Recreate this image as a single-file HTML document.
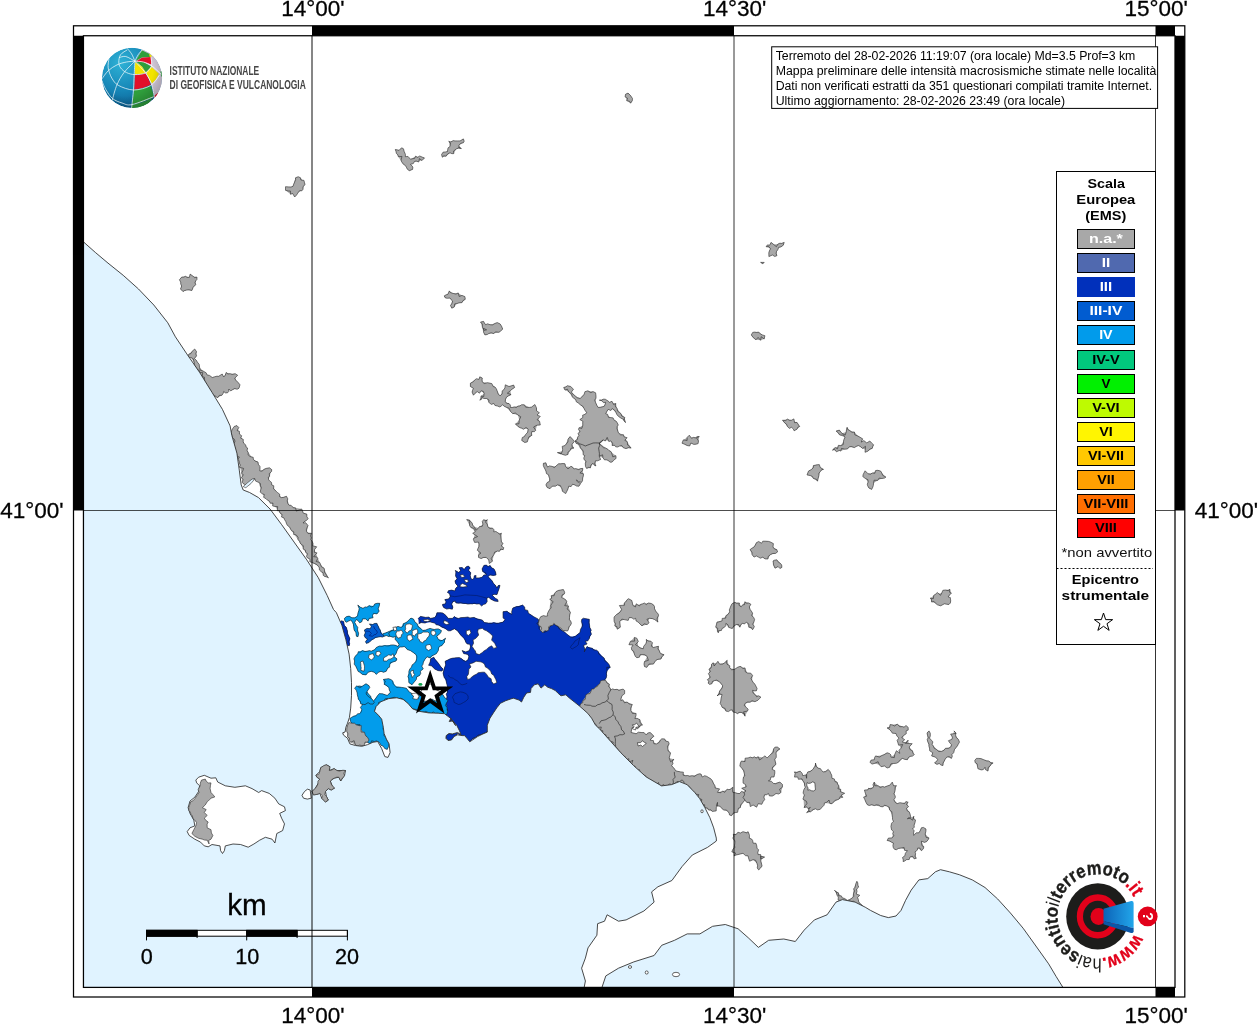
<!DOCTYPE html>
<html><head><meta charset="utf-8"><title>Mappa intensità macrosismiche</title>
<style>html,body{margin:0;padding:0;background:#fff;}body{width:1258px;height:1024px;overflow:hidden;font-family:"Liberation Sans",sans-serif;}svg{display:block;}text{font-family:"Liberation Sans",sans-serif;}</style>
</head><body>
<svg width="1258" height="1024" viewBox="0 0 1258 1024">
<rect x="0" y="0" width="1258" height="1024" fill="#fff"/>
<g style="will-change:opacity;opacity:0.999">
<defs><clipPath id="mc"><rect x="83.5" y="35.5" width="1091.5" height="952"/></clipPath>
<path id="circ" d="M1134.62,932.79 A40.30,40.30 0 1 1 1060.98,900.01 A40.30,40.30 0 1 1 1134.62,932.79"/>
</defs>
<g clip-path="url(#mc)">
<rect x="83" y="35" width="1093" height="953" fill="#fff"/>
<g stroke="#1a1a1a" stroke-width="0.6" stroke-linejoin="miter">
<g fill="#0030bb">
<polygon points="442.5,604.4 445.4,603.8 446.0,601.7 444.8,599.6 449.0,598.8 450.2,596.4 449.6,593.7 447.5,592.5 448.4,590.7 451.7,590.1 454.7,591.0 455.9,588.0 458.0,586.2 455.6,583.5 455.0,580.9 457.1,578.8 455.6,576.1 455.9,571.9 455.3,570.4 458.8,572.5 460.6,570.4 459.1,567.8 462.1,567.5 464.2,569.5 466.0,566.9 468.4,566.0 470.2,568.0 468.4,570.1 470.8,572.8 470.2,575.5 470.8,577.9 472.0,579.7 473.8,578.5 474.3,575.8 476.1,575.6 475.8,577.9 479.1,577.9 482.1,577.3 483.9,574.9 486.3,574.9 482.7,571.6 482.1,568.9 483.9,565.4 486.3,565.1 488.1,566.6 490.1,565.4 491.6,567.8 494.0,568.9 495.5,571.9 496.1,574.9 493.4,575.5 489.8,574.9 488.1,576.7 490.4,579.1 492.2,580.9 493.4,583.3 495.2,585.0 497.0,588.0 498.2,585.6 500.0,585.3 499.1,588.6 498.2,591.0 497.0,594.6 494.0,594.3 492.2,595.2 495.2,598.2 498.2,601.4 494.6,601.1 491.0,599.3 488.7,597.3 486.9,598.2 485.7,603.8 476.7,604.1 467.8,604.1 458.8,603.2 455.9,602.9 455.3,601.1 452.9,601.7 451.7,604.1 452.9,607.1 452.3,609.2 449.3,608.6 443.9,607.7 442.8,605.9" stroke="none"/>
<polygon points="442.5,604.4 445.4,603.8 446.0,601.7 444.8,599.6 449.0,598.8 450.2,596.4 449.6,593.7 447.5,592.5 448.4,590.7 451.7,590.1 454.7,591.0 455.9,588.0 458.0,586.2 455.6,583.5 455.0,580.9 457.1,578.8 455.6,576.1 455.9,571.9 455.3,570.4 458.8,572.5 460.6,570.4 459.1,567.8 462.1,567.5 464.2,569.5 466.0,566.9 468.4,566.0 470.2,568.0 468.4,570.1 470.8,572.8 470.2,575.5 470.8,577.9 472.0,579.7 473.8,578.5 474.3,575.8 476.1,575.6 475.8,577.9 479.1,577.9 482.1,577.3 483.9,574.9 486.3,574.9 485.6,572.8 482.7,571.6 482.1,568.9 483.9,565.4 486.3,565.1 488.1,566.6 490.1,565.4 491.6,567.8 494.0,568.9 495.5,571.9 496.1,574.9 493.4,575.5 489.8,574.9 488.1,576.7 490.4,579.1 492.2,580.9 493.4,583.3 495.2,585.0 497.0,588.0 498.2,585.6 500.0,585.3 499.1,588.6 498.2,591.0 497.0,594.6 494.0,594.3 492.2,595.2 495.2,598.2 497.6,599.4 498.2,601.4 494.6,601.1 491.0,599.3 488.7,597.3 486.9,598.2 487.2,601.6 485.7,603.8 483.5,604.5 481.6,606.0 479.2,603.8 476.7,604.1 474.1,603.2 472.7,603.9 470.6,603.8 467.8,604.1 465.8,603.5 463.7,603.5 460.7,602.8 458.8,603.2 455.9,602.9 455.3,601.1 452.9,601.7 451.7,604.1 452.9,607.1 452.3,609.2 449.3,608.6 446.7,609.1 443.9,607.7 442.8,605.9"/>
<polygon points="447.2,685.6 446.2,681.5 444.1,677.3 443.1,673.2 444.1,669.1 445.7,664.9 445.1,661.3 448.2,659.8 452.4,658.2 456.5,657.7 461.7,658.7 465.8,661.3 467.9,659.8 468.9,656.7 467.9,654.4 463.7,653.6 462.2,650.5 465.8,652.0 469.4,650.5 470.5,646.9 469.9,644.3 465.8,642.2 463.7,638.1 460.6,635.0 457.5,630.8 454.4,628.8 450.3,630.8 446.2,629.3 442.0,627.2 438.9,625.2 434.8,623.1 430.7,622.1 425.5,623.1 421.4,622.6 418.8,623.6 418.3,618.4 420.3,616.4 425.5,617.4 430.7,618.4 434.8,617.4 436.9,612.8 441.0,612.8 445.1,614.8 448.2,618.4 452.4,618.4 454.4,616.4 458.6,618.4 464.8,617.4 469.9,617.9 474.1,617.4 480.3,619.5 484.4,622.6 488.5,623.1 493.7,622.6 498.9,623.1 503.0,622.1 505.1,619.5 503.0,615.3 503.0,611.7 507.1,611.2 511.8,614.3 512.8,608.1 516.4,606.6 522.6,605.0 524.9,609.7 528.4,613.2 533.7,616.7 538.9,621.1 540.7,630.7 546.8,631.1 550.3,625.8 553.8,623.4 558.2,626.3 562.5,630.7 566.9,634.2 570.4,636.8 575.6,636.0 580.0,632.5 581.8,627.2 581.8,619.3 586.1,618.8 589.3,619.3 589.6,625.5 591.4,634.2 589.3,638.6 585.3,641.2 583.5,645.6 584.4,651.7 587.0,646.5 592.3,648.2 598.4,651.7 602.8,656.9 607.1,662.2 610.3,667.4 607.1,670.9 606.2,677.9 603.6,681.4 599.3,684.9 594.9,688.4 593.1,693.7 593.1,702.4 583.0,712.1 579.2,708.8 574.4,705.0 569.6,701.2 565.8,697.8 561.0,698.8 558.2,696.4 555.3,693.5 551.5,691.6 547.7,690.2 544.8,687.8 541.0,691.1 538.2,686.8 534.3,687.8 531.0,691.6 530.5,695.4 526.7,695.9 523.8,700.2 521.5,705.0 519.1,703.1 513.4,701.2 511.3,700.9 506.3,702.6 501.4,705.1 498.1,709.3 494.9,714.3 491.6,719.3 489.2,725.9 489.3,732.5 481.1,734.7 475.9,737.3 470.6,740.8 468.0,742.5 465.1,739.3 463.0,736.8 459.6,736.1 458.0,731.9 455.6,726.8 452.4,723.5 449.9,720.0 447.5,717.5 445.8,714.9" stroke="none"/>
<polygon points="447.2,685.6 446.2,681.5 446.1,679.5 444.1,677.3 443.1,673.2 444.1,669.1 444.8,666.9 445.7,664.9 445.1,661.3 448.2,659.8 450.1,658.8 452.4,658.2 456.5,657.7 459.3,657.5 461.7,658.7 463.2,660.5 465.8,661.3 467.9,659.8 468.9,656.7 467.9,654.4 463.7,653.6 462.2,650.5 465.8,652.0 469.4,650.5 470.5,646.9 469.9,644.3 467.1,644.0 465.8,642.2 465.1,639.9 463.7,638.1 460.6,635.0 459.1,633.0 457.5,630.8 454.4,628.8 452.3,629.8 450.3,630.8 448.1,630.8 446.2,629.3 444.8,628.2 442.0,627.2 438.9,625.2 436.0,624.7 434.8,623.1 430.7,622.1 427.4,620.8 425.5,623.1 421.4,622.6 418.8,623.6 421.1,621.4 418.3,618.4 420.3,616.4 422.6,616.7 425.5,617.4 428.8,617.1 430.7,618.4 434.8,617.4 436.6,615.3 436.9,612.8 441.0,612.8 442.9,613.0 445.1,614.8 446.7,616.3 448.2,618.4 452.4,618.4 454.4,616.4 455.7,618.0 458.6,618.4 460.8,617.6 464.8,617.4 467.9,617.0 469.9,617.9 474.1,617.4 477.2,619.1 480.3,619.5 482.4,620.1 484.4,622.6 488.5,623.1 491.7,623.4 493.7,622.6 496.7,623.5 498.9,623.1 503.0,622.1 505.1,619.5 503.1,618.1 503.0,615.3 503.0,611.7 507.1,611.2 508.6,612.8 511.8,614.3 511.7,611.4 512.8,608.1 516.4,606.6 519.1,606.6 522.6,605.0 524.7,607.0 524.9,609.7 527.8,610.4 528.4,613.2 531.7,615.3 533.7,616.7 536.1,617.9 538.2,619.1 538.9,621.1 537.0,623.5 539.0,625.6 539.1,628.4 540.7,630.7 544.4,632.3 546.8,631.1 548.9,628.6 550.3,625.8 553.8,623.4 555.8,625.5 558.2,626.3 559.3,629.0 562.5,630.7 565.3,632.5 566.9,634.2 570.4,636.8 572.6,637.6 575.6,636.0 578.0,634.1 580.0,632.5 580.5,629.3 581.8,627.2 582.7,625.2 581.4,621.6 581.8,619.3 583.4,618.2 586.1,618.8 589.3,619.3 589.0,622.8 589.6,625.5 589.7,627.2 591.3,630.2 590.5,631.6 591.4,634.2 589.5,636.5 589.3,638.6 587.8,640.9 585.3,641.2 587.1,644.0 583.5,645.6 585.1,649.2 584.4,651.7 585.5,648.9 587.0,646.5 588.9,647.8 592.3,648.2 593.5,649.9 596.7,650.2 598.4,651.7 598.6,653.8 601.2,655.9 602.8,656.9 604.2,658.0 604.9,660.9 607.1,662.2 608.9,664.2 610.3,667.4 606.8,667.3 607.1,670.9 606.3,673.5 606.7,675.3 606.2,677.9 603.6,681.4 601.6,684.4 599.3,684.9 596.9,685.9 594.9,688.4 593.0,691.2 593.1,693.7 592.0,696.3 592.9,700.1 593.1,702.4 592.0,704.7 590.5,705.8 587.8,707.7 585.1,707.2 584.5,709.7 583.0,712.1 580.7,711.2 579.2,708.8 577.3,705.1 574.4,705.0 571.8,702.7 569.6,701.2 568.2,699.3 565.8,697.8 564.1,699.0 561.0,698.8 558.2,696.4 555.3,693.5 551.5,691.6 547.7,690.2 544.8,687.8 543.4,690.4 541.0,691.1 539.0,689.2 538.2,686.8 534.3,687.8 532.3,689.8 531.0,691.6 530.5,695.4 526.7,695.9 525.0,698.0 523.8,700.2 523.1,703.5 521.5,705.0 519.1,703.1 516.7,701.6 513.4,701.2 511.3,700.9 509.0,701.3 506.3,702.6 503.6,703.5 501.4,705.1 500.3,707.0 498.1,709.3 497.3,711.8 494.9,714.3 493.6,716.2 491.6,719.3 492.6,722.2 490.6,723.6 489.2,725.9 489.6,730.0 489.3,732.5 486.8,732.0 483.4,733.7 481.1,734.7 478.0,735.1 475.9,737.3 472.8,738.3 470.6,740.8 468.0,742.5 465.1,739.3 463.0,736.8 459.6,736.1 458.5,733.6 458.0,731.9 455.9,729.4 455.6,726.8 454.5,724.0 452.4,723.5 449.9,720.0 447.5,717.5 445.8,714.9 445.1,712.7 447.9,710.1 445.8,707.8 446.8,705.5 445.5,703.2 446.7,700.9 446.5,698.6 447.3,696.9 446.1,694.1 447.8,692.1 447.1,690.3 448.2,687.4"/>
<polygon points="430.7,658.7 433.8,657.2 436.9,661.3 438.9,663.9 441.0,667.0 443.1,669.1 442.0,671.1 437.9,670.6 434.8,669.1 431.7,666.0 430.2,661.8" stroke="none"/>
<polygon points="430.7,658.7 433.8,657.2 434.7,659.2 436.9,661.3 438.9,663.9 441.0,667.0 443.1,669.1 442.0,671.1 437.9,670.6 434.8,669.1 431.7,666.0 428.6,665.3 430.2,661.8"/>
<polygon points="446.2,735.6 448.9,733.5 452.4,733.9 456.7,732.1 457.6,733.9 454.1,736.5 451.5,740.0 448.0,740.5 445.9,738.3" stroke="none"/>
<polygon points="446.2,735.6 448.9,733.5 452.4,733.9 454.9,733.2 456.7,732.1 457.6,733.9 454.1,736.5 451.5,740.0 448.0,740.5 445.9,738.3"/>
<polygon points="339.1,622.8 343.6,621.4 344.4,625.6 346.3,627.3 347.5,631.2 348.6,635.6 350.0,639.0 349.4,645.6 346.3,645.6 344.7,640.1 343.0,634.5 341.1,628.4" stroke="none"/>
<polygon points="339.1,622.8 341.4,620.8 343.6,621.4 344.4,625.6 346.3,627.3 347.5,631.2 347.2,633.8 348.6,635.6 350.0,639.0 348.2,641.6 349.6,643.3 349.4,645.6 346.3,645.6 345.4,642.7 344.7,640.1 344.7,637.8 343.0,634.5 343.2,631.8 341.1,628.4 339.6,626.0"/>
</g><g fill="#fff">
<polygon points="460.0,575.2 463.0,574.6 464.8,576.7 461.8,577.6"/>
<polygon points="464.2,579.7 467.2,579.4 468.7,581.5 466.0,582.7"/>
<polygon points="460.3,585.0 462.4,583.5 466.0,585.0 467.2,586.5 463.0,587.1 460.0,586.8"/>
<polygon points="478.2,629.3 482.3,628.3 484.0,629.8 486.5,630.8 489.6,632.9 492.7,636.0 491.6,640.1 494.7,643.2 495.9,645.8 496.8,647.4 493.7,648.4 491.6,645.8 488.5,647.4 486.5,649.4 483.8,651.1 482.3,652.5 479.2,654.6 476.1,653.6 475.4,651.0 474.1,649.4 472.0,646.3 473.6,643.2 473.0,640.1 476.1,638.1 478.7,635.0 477.7,631.9"/>
<polygon points="473.0,662.9 476.1,661.3 480.3,661.8 482.0,662.3 484.4,663.9 485.5,667.1 487.5,668.0 490.6,671.1 491.7,674.0 493.7,675.3 494.7,677.4 495.8,679.4 496.8,682.5 493.7,684.1 491.6,681.5 491.1,678.7 488.5,677.3 486.5,674.2 484.6,672.2 482.3,672.2 478.2,672.7 476.3,674.3 474.1,675.3 471.4,677.2 469.9,678.9 467.4,679.4 466.8,676.6 468.4,674.2 468.7,671.8 468.9,669.1 471.0,667.0 469.4,663.9"/>
<polygon points="466.3,630.8 469.9,629.8 471.0,632.9 468.4,635.5 466.3,633.9"/>
<polygon points="423.4,619.7 427.6,619.3 430.7,620.3 427.6,621.5 424.0,621.3"/>
<polygon points="444.1,620.5 447.2,621.5 449.3,624.1 446.2,624.6 443.6,623.1"/>
</g><g fill="#029ceb">
<polygon points="344.4,618.4 346.3,616.7 349.1,616.1 351.9,617.8 354.7,617.8 357.5,616.1 358.0,612.8 359.1,608.3 357.8,605.0 360.3,607.2 363.0,608.3 366.9,607.2 369.2,605.6 373.6,606.1 374.7,603.9 379.7,603.3 379.2,606.1 378.1,608.9 379.2,611.1 377.0,613.9 373.6,613.4 372.5,615.6 373.1,617.8 369.2,618.4 368.0,621.1 365.8,618.9 362.5,618.9 361.9,621.7 359.7,622.8 358.0,620.6 356.4,619.5 354.7,622.3 356.4,625.6 357.5,630.0 358.6,633.4 358.0,636.7 356.4,636.2 355.8,632.3 354.1,630.0 353.6,626.2 352.5,622.3 350.8,620.0 348.6,621.1 346.3,622.3 345.0,621.1" stroke="none"/>
<polygon points="344.4,618.4 346.3,616.7 349.1,616.1 351.9,617.8 354.7,617.8 357.5,616.1 358.0,612.8 359.1,610.2 359.1,608.3 357.8,605.0 360.3,607.2 363.0,608.3 365.2,606.9 366.9,607.2 369.2,605.6 371.4,606.9 373.6,606.1 374.7,603.9 377.2,603.3 379.7,603.3 379.2,606.1 378.1,608.9 379.2,611.1 377.0,613.9 373.6,613.4 372.5,615.6 373.1,617.8 369.2,618.4 368.0,621.1 365.8,618.9 362.5,618.9 361.9,621.7 359.7,622.8 358.0,620.6 356.4,619.5 354.7,622.3 356.4,625.6 357.8,627.2 357.5,630.0 358.6,633.4 358.0,636.7 356.4,636.2 355.8,632.3 354.1,630.0 353.6,626.2 353.4,624.4 352.5,622.3 350.8,620.0 348.6,621.1 346.3,622.3 345.0,621.1"/>
<polygon points="382.5,633.9 385.9,632.8 389.2,631.4 392.5,630.0 393.6,632.3 391.4,633.9 389.2,636.7 386.4,635.6 384.2,636.2" stroke="none"/>
<polygon points="382.5,633.9 385.9,632.8 389.2,631.4 392.5,630.0 393.6,632.3 391.4,633.9 389.2,636.7 386.4,635.6 384.2,636.2"/>
<polygon points="388.7,633.1 391.3,631.0 394.4,627.9 398.0,626.4 401.1,627.4 403.2,623.8 407.3,621.7 411.0,618.1 413.5,619.1 415.1,622.2 417.7,625.3 420.8,628.4 422.8,630.5 425.9,630.0 430.1,628.4 434.2,629.5 438.3,628.9 441.4,630.5 439.4,634.1 436.8,636.2 438.3,639.3 442.5,640.3 445.6,638.2 444.5,642.4 442.0,645.5 439.4,646.5 438.3,650.6 436.3,653.7 433.2,655.3 430.1,657.9 427.0,656.8 424.9,659.4 423.4,662.0 421.8,666.1 420.3,671.3 419.7,675.4 416.6,677.0 414.6,681.6 412.0,684.7 408.9,682.7 407.9,676.5 408.9,671.3 411.5,667.2 414.6,663.0 416.6,658.9 416.1,654.8 413.5,652.7 410.4,650.6 407.3,649.6 404.2,646.5 402.2,647.0 399.6,647.0 397.5,649.6 396.0,653.7 393.9,656.3 397.0,658.9 396.0,661.0 392.9,662.0 389.8,664.6 387.7,668.2 386.2,671.3 383.6,672.3 381.0,671.3 378.4,672.3 376.3,674.4 374.3,672.3 371.2,671.3 368.1,672.3 366.0,674.9 362.4,674.4 359.8,672.3 357.2,669.2 355.7,666.1 354.6,661.0 355.2,656.3 357.7,653.7 358.3,651.7 362.4,650.6 367.0,651.2 371.2,651.2 374.8,649.6 376.3,647.5 379.4,646.0 384.6,645.5 390.8,645.0 396.0,645.5 398.0,646.5 399.1,644.4 397.0,641.3 394.9,639.3 396.0,636.7 392.9,637.2 389.8,636.2" stroke="none"/>
<polygon points="388.7,633.1 391.3,631.0 393.7,630.1 394.4,627.9 398.0,626.4 401.1,627.4 403.3,625.9 403.2,623.8 405.7,622.7 407.3,621.7 409.4,619.4 411.0,618.1 413.5,619.1 415.1,622.2 417.2,623.7 417.7,625.3 418.4,627.1 420.8,628.4 422.8,630.5 425.9,630.0 428.3,628.9 430.1,628.4 431.9,628.9 434.2,629.5 436.4,629.0 438.3,628.9 441.4,630.5 441.0,632.5 439.4,634.1 436.8,636.2 438.3,639.3 440.4,640.8 442.5,640.3 445.6,638.2 444.4,640.5 444.5,642.4 443.4,643.4 442.0,645.5 439.4,646.5 438.5,648.1 438.3,650.6 436.3,653.7 433.2,655.3 431.7,655.9 430.1,657.9 427.0,656.8 424.9,659.4 423.4,662.0 423.0,664.3 421.8,666.1 423.3,668.9 420.3,671.3 420.8,673.3 419.7,675.4 416.6,677.0 416.5,679.2 414.6,681.6 413.0,683.5 412.0,684.7 408.9,682.7 408.8,680.7 408.9,678.8 407.9,676.5 409.1,673.8 408.9,671.3 409.8,668.8 411.5,667.2 412.1,664.9 414.6,663.0 416.0,661.3 416.6,658.9 416.8,656.8 416.1,654.8 413.5,652.7 410.4,650.6 407.3,649.6 405.7,647.5 404.2,646.5 402.2,647.0 399.6,647.0 397.5,649.6 396.9,651.2 396.0,653.7 393.9,656.3 395.5,657.8 397.0,658.9 396.0,661.0 392.9,662.0 390.5,662.7 389.8,664.6 389.5,667.2 387.7,668.2 386.2,671.3 383.6,672.3 381.0,671.3 378.4,672.3 376.3,674.4 374.3,672.3 371.2,671.3 368.1,672.3 366.0,674.9 362.4,674.4 359.8,672.3 358.1,671.4 357.2,669.2 355.7,666.1 354.2,664.2 354.6,661.0 353.9,658.9 355.2,656.3 357.7,653.7 358.3,651.7 360.3,652.2 362.4,650.6 364.8,651.5 367.0,651.2 369.5,650.6 371.2,651.2 374.8,649.6 376.3,647.5 379.4,646.0 382.0,646.3 384.6,645.5 387.0,645.9 389.1,645.8 390.8,645.0 393.5,644.9 396.0,645.5 398.0,646.5 399.1,644.4 397.0,641.3 394.9,639.3 396.0,636.7 392.9,637.2 389.8,636.2"/>
<polygon points="383.3,679.5 388.8,678.7 392.8,681.1 395.2,685.9 401.5,687.4 406.3,688.2 409.5,692.2 414.3,697.0 418.2,698.6 419.0,695.4 416.6,692.2 419.0,689.8 423.8,695.4 428.6,690.6 434.9,690.6 441.3,693.8 445.7,698.6 446.9,714.0 438.1,713.2 428.6,712.6 419.0,711.3 412.7,708.9 407.9,703.3 403.1,699.4 396.8,697.8 388.8,698.6 380.9,701.7 376.1,706.5 374.5,711.3 378.5,715.3 381.7,719.2 383.3,727.2 384.1,733.5 386.4,739.1 389.1,743.9 387.2,749.4 383.3,746.3 379.3,742.3 374.5,741.5 370.5,743.9 367.4,742.3 365.8,735.9 361.0,729.6 356.2,724.8 351.5,723.2 349.9,718.4 353.8,716.1 359.4,713.7 361.8,709.7 362.6,703.3 360.2,700.2 359.4,695.4 357.8,689.0 358.6,685.9 362.6,686.6 365.8,689.0 368.2,693.8 371.3,698.6 369.7,703.3 372.9,701.7 377.7,695.4 382.5,693.8 387.2,695.4 390.4,692.2 388.8,687.4 384.1,684.3" stroke="none"/>
<polygon points="383.3,679.5 386.5,678.9 388.8,678.7 391.2,679.7 392.8,681.1 393.2,683.7 395.2,685.9 396.8,687.4 399.0,687.1 401.5,687.4 404.1,687.8 406.3,688.2 407.8,690.1 409.5,692.2 411.7,693.2 412.6,695.0 414.3,697.0 416.2,696.9 418.2,698.6 419.0,695.4 416.6,692.2 419.0,689.8 419.9,691.9 422.0,693.7 423.8,695.4 425.2,693.3 427.6,692.8 428.6,690.6 430.4,691.6 432.9,691.2 434.9,690.6 437.8,691.2 438.8,692.5 441.3,693.8 442.9,694.6 444.3,696.9 445.7,698.6 448.0,700.6 446.5,703.0 445.3,705.7 447.2,707.4 447.0,709.4 447.6,711.4 446.9,714.0 444.7,716.6 442.6,713.8 440.6,714.4 438.1,713.2 435.1,713.5 433.4,711.8 431.2,713.7 428.6,712.6 425.7,711.4 424.3,712.0 421.7,712.1 419.0,711.3 416.7,709.7 414.7,709.2 412.7,708.9 410.9,707.1 408.9,705.0 407.9,703.3 406.0,702.8 404.7,700.3 403.1,699.4 400.8,698.1 399.2,698.8 396.8,697.8 394.2,697.3 391.4,698.0 388.8,698.6 386.8,698.5 384.9,699.0 384.0,702.7 380.9,701.7 378.5,702.6 378.4,705.9 376.1,706.5 375.6,708.5 374.5,711.3 377.3,713.4 378.5,715.3 381.2,717.0 381.7,719.2 384.1,721.1 382.2,723.0 383.7,724.6 383.3,727.2 383.0,729.4 386.2,731.6 384.1,733.5 384.0,735.4 386.1,737.6 386.4,739.1 387.8,741.4 389.1,743.9 388.7,746.4 387.2,749.4 384.7,748.5 383.3,746.3 381.0,745.3 379.3,742.3 376.5,740.9 374.5,741.5 371.6,740.8 370.5,743.9 367.4,742.3 366.1,740.5 365.7,738.7 365.8,735.9 363.0,734.2 362.7,732.2 361.0,729.6 358.9,728.0 359.9,724.6 356.2,724.8 353.3,724.6 351.5,723.2 350.6,721.5 349.9,718.4 351.5,717.4 353.8,716.1 355.8,715.9 357.6,713.7 359.4,713.7 360.9,712.5 361.8,709.7 360.4,707.4 362.2,705.1 362.6,703.3 360.2,700.2 359.8,697.8 359.4,695.4 359.7,693.2 358.2,691.2 357.8,689.0 358.6,685.9 360.4,686.2 362.6,686.6 365.8,689.0 366.7,691.5 368.2,693.8 370.6,696.0 371.3,698.6 371.5,700.7 369.7,703.3 372.9,701.7 374.6,700.0 376.0,698.0 377.7,695.4 379.3,693.6 382.5,693.8 385.4,694.8 387.2,695.4 388.6,694.3 390.4,692.2 389.3,690.1 388.8,687.4 386.0,685.2 384.1,684.3 385.3,681.0"/>
<polygon points="356.7,685.8 359.8,687.8 362.9,685.8 366.0,683.7 369.1,685.8 368.1,689.9 366.0,693.0 369.1,697.1 372.2,699.2 374.3,702.3 370.1,704.0 360.8,704.0 358.3,699.2 357.2,693.0" stroke="none"/>
<polygon points="356.7,685.8 359.8,687.8 362.9,685.8 366.0,683.7 369.1,685.8 369.8,687.6 368.1,689.9 366.0,693.0 366.8,695.0 369.1,697.1 372.2,699.2 374.3,702.3 373.0,704.1 370.1,704.0 368.1,702.6 365.0,704.6 363.5,704.4 360.8,704.0 360.3,701.1 358.3,699.2 358.1,697.6 357.3,694.6 357.2,693.0 356.2,690.1 354.6,688.3"/>
</g><g fill="#005cd0">
<polygon points="364.4,630.0 366.9,628.4 370.3,628.7 371.4,626.2 369.4,623.9 372.5,624.5 374.7,623.4 377.0,623.4 378.6,626.7 380.3,630.0 382.5,634.5 384.2,636.2 380.3,636.7 377.0,637.3 373.6,639.0 370.3,641.2 366.4,643.4 365.5,641.7 367.5,639.0 365.3,637.8 364.2,635.6 365.3,632.8" stroke="none"/>
<polygon points="364.4,630.0 366.9,628.4 370.3,628.7 371.4,626.2 369.4,623.9 372.5,624.5 374.7,623.4 377.0,623.4 377.4,624.9 378.6,626.7 379.0,628.4 380.3,630.0 380.7,632.9 382.5,634.5 384.2,636.2 382.6,637.1 380.3,636.7 377.0,637.3 375.2,637.6 373.6,639.0 372.0,639.6 370.3,641.2 369.1,642.5 366.4,643.4 365.5,641.7 367.5,639.0 365.3,637.8 364.2,635.6 365.3,632.8"/>
<polyline fill="none" stroke="#001a70" stroke-width="0.7" points="365.8,631.2 367.2,631.2 369.2,631.2 371.4,633.4 369.2,635.6 371.0,636.0 372.5,636.2 374.3,634.7 375.8,634.5 377.3,632.7 377.0,631.2 374.7,628.9 373.6,626.2"/>
</g><g fill="#fff">
<polygon points="417.7,634.1 419.2,633.8 421.7,633.2 422.8,632.0 426.0,632.1 428.0,632.0 429.5,633.7 429.0,636.2 427.5,637.5 425.9,640.3 423.9,641.1 422.8,642.9 419.7,641.3 419.4,639.7 417.7,638.2 417.9,636.4"/>
<polygon points="397.0,631.0 399.1,631.1 401.1,630.0 402.2,631.1 403.2,633.1 401.5,634.8 401.1,637.2 398.0,638.2 397.0,636.8 396.0,635.1 395.9,633.4"/>
<polygon points="405.3,626.9 406.0,624.3 409.4,623.8 411.5,624.6 412.5,625.8 412.0,627.6 411.5,630.0 409.1,630.9 407.3,633.1 404.8,631.0 405.7,628.7"/>
<polygon points="376.3,651.7 379.4,651.2 381.0,653.7 379.4,654.8 378.4,656.3 375.8,654.8"/>
<polygon points="383.6,657.9 385.1,657.0 387.3,655.8 388.7,654.8 391.4,655.4 392.9,653.7 393.9,656.3 392.8,657.9 390.8,658.9 388.5,659.4 386.7,661.0 383.6,661.0"/>
<polygon points="360.3,662.0 362.9,661.0 363.8,663.8 364.5,666.1 364.4,668.8 363.9,671.3 360.8,670.3 361.2,667.8 360.9,666.6 360.8,663.7"/>
<polygon points="369.1,654.8 371.7,654.0 373.2,653.7 374.3,656.8 373.3,658.5 371.2,659.9 368.6,657.9"/>
<polygon points="412.0,631.0 414.4,629.7 416.6,628.9 417.7,630.7 417.7,633.1 415.7,634.2 414.6,636.2 412.0,634.6 412.4,632.5"/>
<polygon points="407.3,635.7 409.0,634.9 411.5,635.1 412.2,637.2 413.0,639.3 411.0,640.0 409.9,641.3 407.3,639.3 407.2,637.1"/>
<polygon points="392.9,627.4 396.0,626.9 396.8,630.0 394.1,631.0 393.5,628.9"/>
<polygon points="431.1,631.0 434.2,630.5 435.5,632.3 435.8,634.1 433.2,635.7 431.1,634.1"/>
<polygon points="425.9,645.5 427.8,644.8 430.1,644.4 431.0,646.1 431.6,648.6 430.1,649.6 428.5,650.6 425.9,648.6"/>
<polygon points="410.4,672.3 411.5,670.7 413.5,670.3 413.4,673.0 414.6,674.4 413.2,676.4 412.0,677.5 411.4,674.9"/>
<polygon points="423.5,687.5 426.1,687.9 426.8,686.3 428.1,684.8 430.0,684.0 432.3,684.3 433.7,685.3 434.9,688.1 437.0,687.5 436.8,690.5 438.9,690.7 439.7,692.5 441.5,694.0 440.7,695.7 438.8,698.2 439.1,700.0 438.0,702.0 436.1,700.9 434.0,700.5 433.2,699.5 431.0,699.0 429.3,699.3 427.6,701.0 426.2,701.0 424.0,701.5 423.7,700.0 421.5,698.4 421.6,696.5 420.5,695.0 421.4,692.9 421.1,691.3 422.4,688.9"/>
<polygon points="411.1,693.8 413.8,693.4 415.9,693.0 417.4,694.5 419.0,696.2 417.4,699.4 415.4,699.2 412.7,698.6 413.6,696.2"/>
</g><g fill="#a8a8a8" stroke="#2a2a2a">
<polygon points="181.7,277.1 185.6,276.3 189.4,277.3 193.2,276.3 197.0,277.1 195.7,280.9 195.7,284.7 193.2,287.2 191.9,290.5 186.8,290.0 183.0,291.6 180.5,289.0 181.7,286.0 180.7,282.1" stroke="none"/>
<polygon points="181.7,277.1 183.8,277.1 185.6,276.3 187.0,277.4 189.4,277.3 190.1,274.1 193.2,276.3 194.5,277.6 197.0,277.1 196.9,279.6 195.7,280.9 195.0,282.6 195.7,284.7 193.2,287.2 191.9,290.5 189.0,289.8 186.8,290.0 184.5,290.6 183.0,291.6 180.5,289.0 181.7,286.0 180.7,284.0 180.7,282.1 179.4,279.8"/>
<polygon points="188.9,354.1 191.9,351.6 196.5,351.6 196.5,355.9 194.5,358.5 197.5,362.3 199.6,367.4 203.4,371.2 207.2,375.0 212.3,377.5 218.6,376.3 223.7,377.0 226.3,372.4 230.1,373.7 235.2,373.7 235.7,380.1 238.2,382.6 239.0,388.2 232.6,389.7 228.8,389.0 227.5,392.8 223.7,391.5 221.9,395.3 217.4,397.9 213.5,395.3 209.7,389.0 204.6,380.1 199.6,372.4 194.5,363.5" stroke="none"/>
<polygon points="188.9,354.1 190.8,353.6 191.9,351.6 194.7,349.0 196.5,351.6 195.8,353.8 196.5,355.9 194.5,358.5 196.1,360.0 197.5,362.3 199.2,364.3 199.6,367.4 200.2,370.1 203.4,371.2 206.1,372.8 207.2,375.0 209.5,375.4 212.3,377.5 214.5,376.8 216.9,376.2 218.6,376.3 222.2,374.0 223.7,377.0 225.2,375.3 226.3,372.4 227.7,374.0 230.1,373.7 232.2,374.4 235.2,373.7 237.7,375.3 234.7,378.2 235.7,380.1 238.2,382.6 240.0,384.8 239.0,388.2 237.1,389.3 234.6,388.5 232.6,389.7 230.7,390.9 228.8,389.0 228.8,391.5 227.5,392.8 225.4,392.9 223.7,391.5 223.1,393.5 221.9,395.3 219.3,395.4 217.4,397.9 216.2,396.5 213.5,395.3 212.0,393.1 209.9,391.8 209.7,389.0 208.2,387.2 206.7,386.3 206.1,384.2 204.8,382.7 204.6,380.1 204.4,377.2 202.1,376.6 202.8,372.7 199.6,372.4 199.2,370.3 196.2,369.5 196.1,367.8 194.4,365.4 194.5,363.5 194.0,361.9 193.4,358.9 191.1,357.6 187.1,357.3"/>
<polygon points="234.3,426.4 236.9,425.6 239.4,434.0 243.2,441.6 247.1,450.5 253.4,459.4 258.0,462.0 259.8,470.9 266.6,468.3 271.7,469.6 268.7,479.8 275.0,490.0 281.4,497.6 286.5,496.3 289.0,505.2 295.4,507.8 301.7,509.0 303.0,512.8 306.8,514.1 306.3,520.5 303.0,523.0 308.1,525.6 306.8,531.9 311.4,533.2 310.7,539.6 314.5,549.7 319.6,562.4 324.6,570.1 328.5,577.7 324.6,576.4 318.3,566.3 311.9,562.4 305.6,552.3 297.9,539.6 291.6,530.7 283.9,517.9 275.0,506.5 267.4,500.1 262.3,493.8 258.5,482.3 254.7,478.5 247.1,484.9 243.2,483.6 239.4,463.2 235.6,448.0 231.8,435.3" stroke="none"/>
<polygon points="234.3,426.4 236.9,425.6 238.8,427.5 237.2,430.6 239.5,431.4 239.4,434.0 241.7,435.8 240.7,438.1 243.3,439.4 243.2,441.6 243.7,443.2 245.6,444.8 246.2,447.1 247.6,448.0 247.1,450.5 248.2,452.7 248.2,454.7 249.8,456.5 253.2,457.3 253.4,459.4 255.2,461.1 258.0,462.0 258.3,464.3 260.0,466.5 260.0,469.0 259.8,470.9 262.3,471.1 263.9,469.3 266.6,468.3 269.5,467.8 271.7,469.6 271.6,471.4 269.2,473.7 269.7,476.2 268.3,477.2 268.7,479.8 270.0,481.3 271.5,482.4 271.8,485.0 273.8,485.8 273.6,488.9 275.0,490.0 276.5,491.7 277.7,492.7 279.7,494.2 279.6,496.6 281.4,497.6 283.7,497.3 286.5,496.3 287.8,498.9 287.2,500.9 287.9,503.6 289.0,505.2 291.1,505.3 293.5,507.9 295.4,507.8 296.4,511.1 299.8,509.6 301.7,509.0 302.6,511.1 303.0,512.8 305.0,513.7 306.8,514.1 306.9,516.8 308.2,518.7 306.3,520.5 304.2,521.7 303.0,523.0 305.7,522.7 308.1,525.6 307.3,527.1 306.3,529.9 306.8,531.9 308.2,533.6 311.4,533.2 310.5,535.8 311.3,537.8 310.7,539.6 312.2,541.4 313.1,543.7 312.8,545.8 316.7,546.8 314.5,549.7 314.3,552.3 317.1,552.9 313.6,556.7 316.5,556.9 317.8,558.4 316.2,561.5 319.6,562.4 320.5,564.4 321.4,566.8 324.0,568.0 324.6,570.1 324.4,572.0 325.7,573.9 327.3,576.5 328.5,577.7 326.9,577.0 324.6,576.4 323.2,575.3 323.1,572.7 321.3,571.8 319.4,570.0 319.3,567.8 318.3,566.3 316.8,564.6 314.5,563.5 311.9,562.4 309.8,561.8 310.0,559.3 307.3,557.7 306.4,556.4 307.5,553.7 305.6,552.3 305.4,550.2 303.2,549.1 303.3,545.7 302.2,545.0 300.0,543.0 299.8,541.3 297.9,539.6 298.1,537.4 296.2,534.9 293.7,534.5 293.8,531.9 291.6,530.7 290.6,529.2 289.7,527.2 287.4,525.4 286.6,523.9 285.8,521.6 284.5,519.6 283.9,517.9 281.5,517.0 282.1,514.5 279.9,512.9 279.4,510.8 277.2,510.7 277.7,506.6 275.0,506.5 272.6,505.9 273.0,503.1 270.1,503.2 269.6,501.4 267.4,500.1 266.0,498.7 263.6,497.3 264.3,494.5 262.3,493.8 260.2,492.1 260.6,490.0 261.3,487.7 260.5,485.9 260.4,483.5 258.5,482.3 255.6,481.1 254.7,478.5 252.9,479.5 251.2,480.2 249.8,481.7 249.2,484.4 247.1,484.9 244.6,484.4 243.2,483.6 242.2,482.2 243.1,479.3 241.3,477.9 243.3,474.9 241.6,473.1 242.9,470.6 243.6,468.4 239.3,467.3 240.3,465.1 239.4,463.2 239.0,460.9 237.9,459.3 239.4,457.0 236.9,456.2 236.7,454.2 235.3,451.7 234.8,450.4 235.6,448.0 234.4,446.3 233.6,444.3 235.0,441.2 234.3,439.2 232.6,437.9 231.8,435.3 231.2,432.5 231.8,430.2 232.6,428.7"/>
<polygon points="466.6,519.7 470.9,521.7 474.2,526.8 478.5,528.1 482.9,524.3 483.6,519.7 487.4,519.7 487.9,526.8 492.5,528.1 493.8,531.9 501.4,533.2 501.4,542.1 503.2,549.7 497.6,551.0 493.8,554.8 492.5,561.2 488.7,559.9 486.2,557.4 481.1,558.6 478.5,554.8 478.5,542.1 473.4,539.6 475.2,531.9 469.6,525.6" stroke="none"/>
<polygon points="466.6,519.7 469.5,520.5 470.9,521.7 472.1,522.8 472.6,525.1 474.2,526.8 476.2,530.1 478.5,528.1 479.5,526.5 482.2,526.3 482.9,524.3 482.3,521.4 483.6,519.7 486.0,520.8 487.4,519.7 485.4,522.0 487.2,524.0 487.9,526.8 490.0,528.5 492.5,528.1 494.1,529.9 493.8,531.9 495.9,531.4 497.5,532.5 499.8,534.3 501.4,533.2 500.7,535.0 501.0,538.2 501.2,539.6 501.4,542.1 503.1,543.3 501.3,546.0 503.8,547.7 503.2,549.7 500.8,549.0 499.4,551.4 497.6,551.0 494.6,552.2 493.8,554.8 492.2,557.0 491.2,558.6 492.5,561.2 489.3,563.5 488.7,559.9 486.2,557.4 483.2,557.5 481.1,558.6 478.5,557.4 478.5,554.8 480.9,553.1 477.3,550.3 478.0,548.3 478.9,546.6 479.1,544.3 478.5,542.1 474.6,542.4 473.4,539.6 473.8,538.1 477.6,536.6 472.7,533.3 475.2,531.9 474.8,529.6 473.7,528.2 471.0,527.7 469.6,525.6 469.6,523.1 469.8,520.2"/>
<polygon points="285.5,190.3 293.0,186.3 295.5,177.8 300.5,177.8 304.5,182.8 303.0,189.3 298.0,192.8 290.5,194.3" stroke="none"/>
<polygon points="285.5,190.3 285.5,186.7 288.9,186.9 291.0,187.0 293.0,186.3 293.7,184.2 294.6,182.1 295.6,179.6 295.5,177.8 298.2,176.7 300.5,177.8 300.9,180.0 304.0,180.4 304.5,182.8 305.1,184.7 303.0,186.6 303.0,189.3 301.9,190.8 299.6,190.7 298.0,192.8 296.6,195.0 294.7,197.0 292.6,193.5 290.5,194.3 290.4,191.0 288.2,191.0"/>
<polygon points="395.3,149.5 399.1,150.3 401.6,147.8 404.2,151.6 405.4,156.7 410.5,159.2 415.6,156.2 424.5,157.9 422.0,160.5 414.3,161.7 410.5,164.3 412.6,169.4 409.3,170.7 405.4,165.6 401.6,161.7 398.3,156.7" stroke="none"/>
<polygon points="395.3,149.5 396.9,149.8 399.1,150.3 401.6,147.8 403.5,148.8 404.2,151.6 405.4,154.2 405.4,156.7 408.0,156.4 410.5,159.2 412.2,158.8 414.6,158.4 415.6,156.2 417.5,157.4 419.7,156.0 422.7,157.3 424.5,157.9 422.0,160.5 419.4,158.6 418.8,162.0 416.0,161.0 414.3,161.7 413.3,163.6 410.5,164.3 412.9,167.0 412.6,169.4 409.3,170.7 407.3,169.2 406.3,167.1 405.4,165.6 403.3,164.2 401.6,161.7 401.0,160.0 402.0,156.4 398.3,156.7 397.9,154.9 396.4,153.5 396.0,151.6"/>
<polygon points="441.6,154.6 447.4,151.6 450.0,146.5 448.7,141.4 455.0,140.9 460.1,140.9 463.4,138.9 463.4,142.7 458.9,145.2 461.4,148.5 456.3,149.0 453.8,153.6 450.0,152.8 446.1,156.2 442.3,157.2" stroke="none"/>
<polygon points="441.6,154.6 443.0,152.2 445.6,151.9 447.4,151.6 448.0,147.9 450.0,146.5 450.5,143.2 448.7,141.4 450.7,142.1 453.2,140.6 455.0,140.9 457.8,140.9 460.1,140.9 461.9,139.8 463.4,138.9 464.2,141.2 463.4,142.7 460.9,143.3 458.9,145.2 459.0,147.8 461.4,148.5 458.9,147.7 456.3,149.0 453.5,151.1 453.8,153.6 451.9,153.7 450.0,152.8 447.5,154.1 446.1,156.2 443.9,155.8 442.3,157.2"/>
<polygon points="625.5,94.3 628.0,93.1 630.6,95.6 632.3,100.7 630.6,103.2 626.7,100.7" stroke="none"/>
<polygon points="625.5,94.3 628.0,93.1 630.6,95.6 632.5,98.5 632.3,100.7 630.6,103.2 629.6,101.3 626.7,100.7 627.5,98.3 625.1,97.0"/>
<polygon points="444.2,295.9 448.0,294.2 449.3,290.9 453.1,293.4 458.2,292.9 462.0,295.4 465.3,299.3 462.0,302.6 456.9,303.6 454.3,306.9 451.8,308.2 450.5,305.6 452.6,301.0 450.0,298.0 445.4,298.0" stroke="none"/>
<polygon points="444.2,295.9 446.1,294.8 448.0,294.2 449.3,290.9 450.5,292.6 453.1,293.4 456.0,294.1 458.2,292.9 459.2,296.5 462.0,295.4 464.9,296.6 465.3,299.3 463.0,300.6 462.0,302.6 458.8,302.9 456.9,303.6 454.7,303.9 454.3,306.9 451.8,308.2 450.5,305.6 451.9,303.4 452.6,301.0 451.1,299.7 450.0,298.0 447.6,298.3 445.4,298.0"/>
<polygon points="480.5,322.1 483.6,321.4 485.6,324.7 490.0,324.7 495.0,323.4 500.1,323.9 502.7,329.0 498.9,332.3 493.8,333.6 488.7,333.6 484.9,334.9 483.6,332.3 486.6,329.8 482.3,327.2" stroke="none"/>
<polygon points="480.5,322.1 483.6,321.4 484.3,322.8 485.6,324.7 487.7,323.8 490.0,324.7 492.4,324.9 495.0,323.4 497.2,322.6 500.1,323.9 501.5,326.1 502.7,329.0 500.5,331.3 498.9,332.3 495.4,331.9 493.8,333.6 491.1,332.8 488.7,333.6 487.4,334.5 484.9,334.9 483.6,332.3 483.2,328.2 486.6,329.8 484.1,330.4 482.3,327.2 482.4,324.1"/>
<polygon points="470.4,383.2 474.7,379.9 479.0,379.4 479.8,376.8 482.3,378.1 482.3,381.9 490.0,383.2 495.0,387.0 497.6,392.1 500.1,395.9 503.9,389.6 509.0,386.5 513.6,385.0 514.6,387.5 510.3,390.8 511.1,394.6 506.5,397.2 505.2,401.8 509.0,403.5 510.3,407.4 517.9,406.1 524.3,404.8 529.4,407.4 536.5,407.9 537.0,415.0 539.6,421.4 537.0,425.2 535.7,430.3 531.9,431.5 531.9,435.3 528.1,439.2 524.8,442.5 521.7,440.4 524.3,436.6 527.3,432.8 528.1,429.0 521.7,428.2 517.9,426.4 515.4,423.9 519.2,420.1 517.9,415.0 512.8,413.7 510.3,411.2 506.5,407.4 502.7,404.8 497.6,406.1 493.8,403.5 488.7,402.3 486.6,398.5 482.3,397.2 479.8,400.2 481.0,395.9 484.1,393.4 481.0,390.8 477.2,391.6 473.4,395.2 472.1,392.1 473.4,388.3 470.4,386.5" stroke="none"/>
<polygon points="470.4,383.2 473.3,381.7 474.7,379.9 476.6,378.7 479.0,379.4 479.8,376.8 482.3,378.1 482.0,379.8 482.3,381.9 484.2,383.5 486.3,383.0 487.6,382.7 490.0,383.2 491.8,383.6 493.3,386.6 495.0,387.0 496.4,388.9 497.6,392.1 498.2,393.9 500.1,395.9 502.1,393.8 502.2,390.9 503.9,389.6 504.9,387.8 505.3,384.8 509.0,386.5 511.8,385.7 513.6,385.0 514.6,387.5 511.9,389.3 510.3,390.8 507.3,393.2 511.1,394.6 508.3,395.9 506.5,397.2 505.5,399.3 505.2,401.8 507.1,403.5 509.0,403.5 510.4,405.1 510.3,407.4 512.6,407.4 514.2,407.0 516.3,407.5 517.9,406.1 520.0,405.9 521.6,404.7 524.3,404.8 525.7,407.2 529.4,407.4 531.5,407.1 534.9,404.5 536.5,407.9 536.5,410.7 539.4,412.8 537.0,415.0 540.3,416.4 537.1,419.7 539.6,421.4 540.3,425.0 537.0,425.2 533.6,427.0 535.7,430.3 534.4,431.7 531.9,431.5 531.5,433.9 531.9,435.3 528.9,436.9 528.1,439.2 527.3,441.9 524.8,442.5 521.7,440.4 522.3,437.5 524.3,436.6 525.4,434.7 527.3,432.8 527.9,431.2 528.1,429.0 526.0,427.5 523.5,429.3 521.7,428.2 520.2,427.8 517.9,426.4 515.4,423.9 519.0,423.8 519.2,420.1 520.8,416.8 517.9,415.0 515.3,413.0 512.8,413.7 510.3,411.2 509.1,408.2 506.5,407.4 504.1,406.2 502.7,404.8 499.9,407.0 497.6,406.1 494.9,405.4 493.8,403.5 491.4,404.4 488.7,402.3 489.0,400.0 486.6,398.5 483.7,398.5 482.3,397.2 481.9,399.0 479.8,400.2 481.1,398.2 481.0,395.9 483.7,396.7 484.1,393.4 483.3,391.4 481.0,390.8 479.5,393.2 477.2,391.6 474.8,393.6 473.4,395.2 472.1,392.1 472.5,390.4 473.4,388.3 470.4,386.5"/>
<polygon points="563.7,387.5 567.5,385.7 570.6,386.5 571.4,392.1 575.2,395.9 580.3,398.5 584.1,394.6 587.9,390.8 593.0,391.6 596.0,395.9 595.5,402.3 598.1,407.4 604.4,406.1 605.7,402.3 599.3,400.2 603.1,399.2 609.5,402.3 615.9,403.5 617.1,408.6 621.0,413.7 624.8,417.5 625.5,422.6 622.2,418.8 618.4,416.3 615.9,412.4 612.1,408.6 608.2,409.4 605.7,413.7 610.3,417.5 617.1,422.6 618.4,432.8 623.5,434.8 627.3,441.7 631.1,448.1 626.0,448.6 619.7,446.0 612.1,445.5 610.8,440.9 603.1,439.9 599.3,443.0 615.9,455.7 612.1,462.1 599.3,456.2 600.6,459.5 595.5,460.8 596.0,465.9 593.0,463.3 590.4,467.9 586.6,468.4 585.3,463.3 584.8,455.7 580.3,448.1 575.2,440.9 579.0,435.3 579.0,427.7 582.8,425.2 582.8,417.5 586.6,412.4 584.1,408.6 580.3,404.8 575.7,399.7 572.1,396.7 568.8,392.1 565.0,390.1" stroke="none"/>
<polygon points="563.7,387.5 565.8,386.9 567.5,385.7 570.6,386.5 573.5,389.2 571.4,392.1 573.2,394.2 575.2,395.9 577.2,397.7 580.3,398.5 582.2,396.2 584.1,394.6 584.9,391.7 587.9,390.8 590.8,392.7 593.0,391.6 595.6,392.8 596.0,395.9 596.0,398.2 594.7,400.0 595.5,402.3 596.9,405.4 598.1,407.4 600.2,407.3 602.2,406.9 604.4,406.1 605.3,403.8 605.7,402.3 603.7,402.7 601.1,400.3 599.3,400.2 601.6,400.2 603.1,399.2 605.2,399.2 608.1,401.0 609.5,402.3 612.0,401.3 613.6,404.5 615.9,403.5 615.1,406.0 617.1,408.6 617.5,411.1 619.4,412.5 621.0,413.7 621.7,416.0 624.8,417.5 623.7,420.4 625.5,422.6 624.4,419.6 622.2,418.8 620.1,417.6 618.4,416.3 617.0,414.8 615.9,412.4 614.6,410.3 612.1,408.6 610.9,410.5 608.2,409.4 607.0,411.2 605.7,413.7 607.6,414.3 608.5,417.3 610.3,417.5 613.1,417.9 614.1,420.2 616.0,421.0 617.1,422.6 618.3,425.0 617.2,426.5 617.0,428.5 617.9,431.3 618.4,432.8 620.7,434.9 623.5,434.8 624.0,436.8 627.1,437.7 624.8,440.3 627.3,441.7 627.6,445.0 629.9,446.5 631.1,448.1 628.5,447.6 626.0,448.6 623.4,447.8 621.8,445.6 619.7,446.0 617.7,447.0 615.7,446.8 614.4,445.2 612.1,445.5 612.6,443.3 610.8,440.9 608.8,441.5 607.2,437.4 605.3,441.0 603.1,439.9 601.2,442.3 599.3,443.0 600.2,444.6 601.9,446.1 603.5,447.7 605.5,448.0 607.9,449.3 609.1,450.6 611.1,451.7 612.0,454.1 612.8,456.9 615.9,455.7 616.1,458.4 613.8,460.1 612.1,462.1 610.2,462.2 608.0,460.4 606.2,459.8 604.5,459.9 602.9,457.7 602.6,454.8 599.3,456.2 600.6,459.5 597.6,460.8 595.5,460.8 594.6,463.9 596.0,465.9 594.2,465.2 593.0,463.3 590.9,465.1 590.4,467.9 588.8,467.3 586.6,468.4 585.5,466.6 585.3,463.3 586.1,461.4 583.9,459.4 583.9,457.6 584.8,455.7 583.1,454.7 583.2,451.2 582.2,449.5 580.3,448.1 579.8,445.1 578.9,444.2 576.0,443.3 575.2,440.9 577.5,439.3 577.6,437.2 579.0,435.3 577.9,433.5 580.1,431.6 578.5,429.6 579.0,427.7 581.8,428.4 582.8,425.2 582.7,423.0 582.9,421.3 579.8,419.6 582.8,417.5 582.6,415.2 585.5,414.1 586.6,412.4 585.2,410.7 584.1,408.6 582.6,406.1 580.3,404.8 578.2,402.9 576.3,401.8 575.7,399.7 573.5,398.0 572.1,396.7 571.8,394.2 568.8,392.1 567.4,389.2 565.0,390.1"/>
<polygon points="557.4,452.6 562.4,451.1 565.0,445.5 568.0,439.2 570.1,436.6 572.6,439.2 572.1,444.2 573.9,448.1 570.1,450.6 568.0,454.4 562.4,454.4" stroke="none"/>
<polygon points="557.4,452.6 561.0,454.0 562.4,451.1 562.6,449.4 562.2,446.4 565.0,445.5 566.3,443.9 567.9,441.9 568.0,439.2 570.1,436.6 572.6,439.2 574.4,441.4 572.1,444.2 572.0,446.7 573.9,448.1 571.1,448.1 570.1,450.6 567.9,452.3 568.0,454.4 565.4,455.3 562.4,454.4 559.5,452.8"/>
<polygon points="543.4,463.3 545.9,462.8 547.7,467.1 556.1,465.9 558.6,463.8 565.0,463.8 565.5,466.4 572.6,467.1 573.9,468.9 582.8,468.4 583.3,476.0 581.5,482.4 576.4,479.9 579.0,486.2 572.6,484.2 568.8,486.2 567.5,490.0 562.4,491.3 561.2,487.5 557.4,484.9 552.3,486.2 547.2,487.5 545.9,484.9 549.7,481.1 548.5,474.8 545.9,471.0" stroke="none"/>
<polygon points="543.4,463.3 545.9,462.8 546.6,465.2 547.7,467.1 549.3,465.9 552.1,466.4 554.4,467.6 556.1,465.9 558.6,463.8 560.5,463.8 563.0,463.5 565.0,463.8 565.5,466.4 568.1,469.0 570.9,466.2 572.6,467.1 573.9,468.9 575.7,468.6 578.7,469.6 580.6,468.6 582.8,468.4 582.6,470.4 579.9,472.9 583.5,473.8 583.3,476.0 582.7,478.0 582.5,480.8 581.5,482.4 578.6,481.7 576.4,479.9 577.5,481.9 580.7,483.4 579.0,486.2 576.4,486.0 575.1,485.1 572.6,484.2 571.1,486.6 568.8,486.2 568.1,488.5 567.5,490.0 565.7,493.6 562.4,491.3 562.0,488.9 561.2,487.5 560.3,485.5 557.4,484.9 555.5,486.2 552.3,486.2 550.0,488.7 547.2,487.5 545.9,484.9 547.1,482.6 549.7,481.1 549.7,478.7 549.1,477.2 548.5,474.8 546.5,473.7 545.9,471.0 545.0,469.2 543.8,466.9 543.3,465.4"/>
<polygon points="683.3,439.9 687.1,437.4 693.4,437.4 699.3,436.6 698.5,440.9 696.0,444.2 690.9,443.0 687.1,445.5 684.5,444.2" stroke="none"/>
<polygon points="683.3,439.9 687.1,440.5 687.1,437.4 689.3,435.2 691.6,438.3 693.4,437.4 695.4,437.9 697.3,436.5 699.3,436.6 696.5,437.9 698.5,440.9 698.1,443.6 696.0,444.2 693.8,444.4 690.9,443.0 689.7,446.0 687.1,445.5 684.5,444.2 682.0,443.2"/>
<polygon points="766.1,246.8 769.7,245.2 771.0,242.4 773.8,244.6 777.9,244.1 784.2,242.4 783.3,245.2 778.7,247.4 776.5,251.5 777.0,255.6 772.4,255.0 768.8,252.8 770.5,248.7" stroke="none"/>
<polygon points="766.1,246.8 767.4,244.9 769.7,245.2 771.0,242.4 773.8,244.6 776.4,246.7 777.9,244.1 779.9,243.2 781.6,243.4 784.2,242.4 783.3,245.2 781.0,246.9 778.7,247.4 777.8,249.7 776.5,251.5 776.1,253.5 777.0,255.6 774.8,256.5 772.4,255.0 768.9,256.6 768.8,252.8 769.4,250.8 770.5,248.7 768.6,246.4"/>
<polygon points="760.6,262.4 764.2,262.4 762.8,263.8" stroke="none"/>
<polygon points="760.6,262.4 764.2,262.4 762.8,263.8"/>
<polygon points="751.3,334.9 754.6,332.1 758.7,332.1 762.3,334.9 764.2,339.0 760.6,340.3 756.0,339.8 753.2,337.6" stroke="none"/>
<polygon points="751.3,334.9 752.7,332.4 754.6,332.1 756.6,332.4 758.7,332.1 760.2,333.8 762.3,334.9 764.9,335.7 764.2,339.0 761.2,336.7 760.6,340.3 758.1,337.4 756.0,339.8 753.2,337.6"/>
<polygon points="782.5,420.2 787.4,419.1 791.5,420.2 797.0,422.4 799.7,426.5 797.0,429.2 791.5,427.3 787.4,426.5 784.7,422.9" stroke="none"/>
<polygon points="782.5,420.2 785.8,420.6 787.4,419.1 789.4,420.3 791.5,420.2 793.9,418.9 794.6,422.7 797.0,422.4 798.6,425.0 799.7,426.5 797.8,427.3 797.0,429.2 794.1,430.8 793.4,429.1 791.5,427.3 789.4,428.4 787.4,426.5 786.5,424.2 784.7,422.9"/>
<polygon points="836.1,431.1 839.4,430.1 842.1,433.3 846.2,432.0 847.1,427.3 849.8,430.6 854.4,432.0 858.0,436.1 862.6,438.8 861.3,442.1 866.8,442.9 873.6,444.8 872.2,448.4 868.1,451.1 862.6,448.4 858.5,445.6 854.4,447.6 849.0,447.0 844.9,449.2 840.8,451.1 832.6,450.3 835.3,447.6 840.8,445.6 843.5,441.5 844.9,437.4 839.4,434.7" stroke="none"/>
<polygon points="836.1,431.1 839.4,430.1 840.8,432.2 842.1,433.3 845.2,435.1 846.2,432.0 846.5,429.6 847.1,427.3 847.5,429.3 849.8,430.6 852.1,432.4 854.4,432.0 854.8,434.8 858.0,436.1 860.3,437.4 862.6,438.8 861.3,442.1 863.8,440.6 866.8,442.9 869.8,441.0 871.6,443.0 873.6,444.8 872.9,446.2 872.2,448.4 869.9,449.1 868.1,451.1 865.0,452.3 865.5,446.3 862.6,448.4 860.4,446.6 858.5,445.6 856.7,446.2 854.4,447.6 851.2,446.5 849.0,447.0 847.6,448.9 844.9,449.2 841.5,448.4 840.8,451.1 839.3,450.5 836.4,451.8 834.3,449.0 832.6,450.3 833.5,448.8 835.3,447.6 837.5,448.8 838.4,445.3 840.8,445.6 843.2,444.6 843.5,441.5 843.8,439.8 844.9,437.4 843.5,435.0 840.9,435.2 839.4,434.7 838.2,432.7"/>
<polygon points="808.5,471.1 811.5,469.4 813.4,465.6 817.0,464.8 820.3,467.5 823.5,469.4 820.3,471.6 818.9,475.7 817.5,481.2 813.4,478.5 810.7,475.7" stroke="none"/>
<polygon points="808.5,471.1 811.5,469.4 813.3,467.7 813.4,465.6 817.0,464.8 819.3,464.6 820.3,467.5 823.5,469.4 821.8,469.6 820.3,471.6 818.9,473.3 818.9,475.7 818.2,478.1 817.5,481.2 816.4,479.3 813.4,478.5 812.4,476.5 810.7,475.7 807.0,474.9"/>
<polygon points="863.2,474.4 868.1,473.8 872.2,473.0 877.7,470.3 881.8,473.0 885.9,477.1 881.8,478.5 877.7,480.4 873.6,483.1 871.7,489.4 868.9,488.0 868.1,482.0 865.4,478.5" stroke="none"/>
<polygon points="863.2,474.4 865.1,470.8 868.1,473.8 870.6,474.2 872.2,473.0 874.8,473.3 875.6,470.5 877.7,470.3 880.6,471.0 881.8,473.0 882.7,475.3 884.1,476.1 885.9,477.1 884.5,478.1 881.8,478.5 879.1,478.1 877.7,480.4 874.1,480.2 873.6,483.1 873.3,485.5 872.8,487.1 871.7,489.4 868.9,488.0 867.6,485.7 867.3,484.2 868.1,482.0 867.9,479.7 865.4,478.5 862.8,476.6"/>
<polygon points="614.0,619.6 616.5,614.5 621.6,609.4 624.2,603.0 628.5,598.7 631.8,600.5 633.1,605.6 640.7,604.3 648.3,603.0 653.4,604.8 655.5,610.7 658.5,615.7 658.0,622.1 654.7,619.6 649.6,618.3 647.1,624.6 642.0,625.9 638.2,622.1 635.6,618.3 629.3,617.5 624.2,619.6 619.8,621.6 620.3,627.2 617.3,629.2 614.8,625.9" stroke="none"/>
<polygon points="614.0,619.6 614.1,617.0 616.5,614.5 618.8,613.3 620.7,611.3 621.6,609.4 619.4,605.5 624.5,605.2 624.2,603.0 625.6,602.0 627.1,599.7 628.5,598.7 631.8,600.5 632.5,603.6 633.1,605.6 635.5,606.9 636.2,603.8 639.4,606.0 640.7,604.3 642.7,603.8 644.4,603.0 646.3,604.6 648.3,603.0 651.4,603.5 653.4,604.8 654.5,606.5 654.5,608.5 655.5,610.7 656.4,612.0 658.3,614.1 658.5,615.7 657.2,618.0 657.1,619.4 658.0,622.1 656.6,621.0 654.7,619.6 652.3,618.6 649.6,618.3 646.9,619.3 649.1,622.8 647.1,624.6 644.2,623.8 642.0,625.9 640.0,624.0 638.2,622.1 636.1,621.0 635.6,618.3 633.9,619.3 631.9,617.8 629.3,617.5 628.2,620.4 624.2,619.6 621.9,619.1 619.8,621.6 620.0,623.9 620.3,627.2 617.3,629.2 616.9,626.6 614.8,625.9 615.5,623.8 614.2,621.6"/>
<polygon points="630.5,641.2 634.3,637.4 637.6,639.9 638.2,646.3 643.2,648.8 645.8,643.7 646.3,639.4 650.9,641.2 653.4,647.5 658.5,646.3 659.8,652.6 664.1,654.7 661.0,659.0 656.0,660.3 653.4,664.1 644.5,666.6 644.5,661.5 647.1,656.4 642.0,654.7 636.9,657.7 634.3,653.9 631.8,650.1 633.1,645.0" stroke="none"/>
<polygon points="630.5,641.2 634.7,641.1 634.3,637.4 636.8,638.2 637.6,639.9 638.3,641.6 635.4,644.7 638.2,646.3 640.1,647.9 643.2,648.8 643.7,646.3 645.8,643.7 646.5,641.9 646.3,639.4 648.0,641.0 650.9,641.2 652.5,642.8 651.4,646.2 653.4,647.5 655.5,646.9 658.5,646.3 657.9,648.9 659.5,651.0 659.8,652.6 661.8,654.1 664.1,654.7 661.6,656.9 661.0,659.0 657.9,659.3 656.0,660.3 654.7,662.0 653.4,664.1 651.5,664.0 649.1,664.0 646.8,667.4 644.5,666.6 644.0,664.1 644.5,661.5 648.4,660.3 647.1,656.4 644.6,654.7 642.0,654.7 640.2,654.7 639.4,657.2 636.9,657.7 635.3,656.4 634.3,653.9 633.6,651.3 631.8,650.1 631.3,647.6 633.1,645.0 628.9,644.7"/>
<polygon points="715.7,627.2 717.0,622.1 722.1,620.8 725.9,615.7 729.7,611.9 731.0,605.6 734.8,602.3 739.4,603.0 741.2,606.8 745.0,601.7 748.8,603.0 750.1,609.4 752.6,613.2 753.9,622.1 752.6,629.7 748.8,627.2 746.3,622.1 742.4,623.4 739.9,627.2 736.1,624.6 732.3,628.5 728.5,627.2 725.9,623.4 722.1,628.5 718.3,632.8" stroke="none"/>
<polygon points="715.7,627.2 716.5,624.2 717.0,622.1 719.0,621.8 722.1,620.8 722.2,618.4 725.7,618.1 725.9,615.7 727.8,614.6 729.7,611.9 729.3,609.9 730.4,607.2 731.0,605.6 732.0,603.7 734.8,602.3 736.5,603.3 739.4,603.0 738.9,605.2 741.2,606.8 742.5,604.9 744.5,604.6 745.0,601.7 746.3,603.2 748.8,603.0 750.9,604.3 749.3,606.9 750.1,609.4 751.4,611.2 752.6,613.2 751.7,615.4 753.8,617.7 754.6,619.5 753.9,622.1 752.7,624.1 754.3,626.4 753.6,628.3 752.6,629.7 751.3,627.5 748.8,627.2 748.9,624.1 746.3,622.1 744.7,623.9 742.4,623.4 740.5,624.9 739.9,627.2 738.5,624.4 736.1,624.6 733.4,626.5 732.3,628.5 730.4,628.0 728.5,627.2 728.0,624.9 725.9,623.4 725.8,625.7 724.3,627.4 722.1,628.5 721.4,630.5 718.5,630.7 718.3,632.8 717.3,631.1 717.8,628.4"/>
<polygon points="750.1,549.6 753.9,547.1 756.4,542.7 761.5,543.2 765.3,541.2 770.4,542.0 773.0,547.1 776.8,549.6 775.5,553.4 770.4,554.7 767.9,559.0 762.8,557.2 756.4,556.0 752.1,554.7" stroke="none"/>
<polygon points="750.1,549.6 751.6,548.4 753.9,547.1 755.3,545.1 756.4,542.7 758.7,541.5 761.5,543.2 762.8,541.2 765.3,541.2 768.5,541.4 770.4,542.0 773.4,543.6 773.0,547.1 774.7,549.1 776.8,549.6 777.6,551.9 775.5,553.4 772.6,553.5 770.4,554.7 768.2,556.5 767.9,559.0 765.0,558.9 762.8,557.2 760.4,558.2 758.4,557.1 756.4,556.0 754.0,557.1 752.1,554.7 752.0,552.5"/>
<polygon points="773.0,561.0 776.8,559.8 780.6,563.6 781.9,567.4 778.1,566.6 775.0,568.2 773.5,564.9" stroke="none"/>
<polygon points="773.0,561.0 774.5,560.2 776.8,559.8 778.1,561.8 780.6,563.6 781.7,565.0 781.9,567.4 779.9,568.5 778.1,566.6 775.0,568.2 773.5,564.9 773.3,562.8"/>
<polygon points="708.1,683.1 709.4,675.5 708.9,669.2 713.2,662.8 719.6,664.1 724.6,662.8 727.2,660.3 729.7,667.9 734.8,669.2 739.4,666.6 745.0,667.9 747.5,673.0 752.6,675.5 752.1,680.6 755.7,685.7 756.4,690.8 752.6,690.3 755.2,694.6 760.8,697.1 756.4,701.0 750.1,702.2 745.0,703.5 747.5,711.1 745.0,716.2 741.2,712.4 737.4,713.7 732.3,709.9 725.9,711.1 722.1,707.3 720.8,701.0 722.1,694.6 717.0,695.9 719.6,690.8 722.6,685.7 719.6,681.9 714.5,680.6 711.9,683.7" stroke="none"/>
<polygon points="708.1,683.1 708.8,681.6 707.4,679.6 710.3,677.4 709.4,675.5 708.4,673.6 710.5,671.4 708.9,669.2 710.8,668.2 711.5,666.6 711.5,664.2 713.2,662.8 714.2,666.0 717.9,661.3 719.6,664.1 722.7,664.1 724.6,662.8 727.2,660.3 726.5,662.2 727.0,664.2 729.8,665.8 729.7,667.9 731.7,669.8 734.8,669.2 737.2,667.5 739.4,666.6 741.1,666.6 742.8,668.6 745.0,667.9 745.3,671.7 747.5,673.0 750.8,673.2 752.6,675.5 751.0,678.5 752.1,680.6 753.1,682.3 754.8,684.1 755.7,685.7 757.1,688.5 756.4,690.8 754.6,690.9 752.6,690.3 753.1,693.0 755.2,694.6 756.6,696.7 758.6,695.8 760.8,697.1 759.8,698.3 757.9,700.3 756.4,701.0 754.9,701.7 752.0,700.7 750.1,702.2 747.7,702.0 745.0,703.5 744.3,705.6 746.6,707.7 748.2,709.2 747.5,711.1 743.6,711.8 745.0,716.2 744.3,713.6 741.2,712.4 739.1,712.4 737.4,713.7 736.0,712.7 732.9,711.9 732.3,709.9 730.4,710.2 728.5,711.6 725.9,711.1 725.1,708.5 722.1,707.3 721.3,705.2 720.1,703.5 720.8,701.0 721.0,698.6 721.4,696.9 722.1,694.6 719.2,693.8 717.0,695.9 719.1,694.2 719.6,690.8 721.1,689.6 722.4,687.3 722.6,685.7 721.5,684.2 719.6,681.9 716.7,680.1 714.5,680.6 712.4,681.5 711.9,683.7 709.6,684.4"/>
<polygon points="540.7,616.7 547.7,615.9 549.4,609.7 551.2,595.7 558.2,590.5 563.4,589.6 564.3,594.0 561.7,597.5 566.0,600.1 568.6,606.2 570.4,612.4 569.5,617.6 571.3,623.7 568.6,629.0 565.2,630.7 562.5,630.7 558.2,626.3 553.8,623.4 550.3,625.8 546.8,631.1 540.7,630.7 538.9,621.1" stroke="none"/>
<polygon points="540.7,616.7 543.5,615.6 545.2,616.1 547.7,615.9 547.3,614.1 548.1,612.1 549.4,609.7 551.1,608.1 550.8,605.4 551.9,603.7 553.2,601.7 549.7,599.3 551.7,598.2 551.2,595.7 554.1,595.7 554.8,593.2 556.0,591.6 558.2,590.5 560.6,590.0 563.4,589.6 564.7,592.2 564.3,594.0 562.2,594.9 561.7,597.5 563.9,598.5 566.0,600.1 566.8,601.7 564.7,605.6 568.6,606.2 567.0,608.9 569.1,610.5 570.4,612.4 569.7,615.0 569.5,617.6 569.4,619.5 571.1,621.9 571.3,623.7 570.2,625.6 568.9,626.9 568.6,629.0 567.6,631.0 565.2,630.7 562.5,630.7 561.7,628.8 559.6,627.4 558.2,626.3 555.8,625.1 553.8,623.4 553.1,625.2 550.3,625.8 548.6,626.8 548.8,630.1 546.8,631.1 544.8,630.5 542.9,632.8 540.7,630.7 541.6,628.4 540.9,626.5 538.6,625.6 538.2,623.6 538.9,621.1 539.7,618.4"/>
<polygon points="579.2,707.8 582.7,700.7 587.8,693.8 595.4,687.2 600.0,683.4 600.5,680.9 605.6,680.3 609.4,684.2 610.7,690.0 617.1,689.3 624.7,690.5 622.1,695.6 620.9,700.7 627.2,702.0 632.3,704.5 631.0,710.9 636.1,713.4 634.9,718.5 640.0,719.8 642.5,724.9 637.4,728.7 632.3,727.4 631.0,732.5 636.1,733.8 641.2,732.5 646.3,735.0 650.1,732.5 653.9,736.3 650.1,740.1 656.5,743.9 660.3,740.1 664.6,738.9 669.2,743.9 667.9,749.0 670.5,752.8 669.2,757.9 673.8,759.2 671.7,765.6 675.6,770.7 680.7,771.9 685.7,775.7 692.1,775.7 697.2,774.5 701.0,774.0 702.3,777.0 708.6,777.5 712.4,780.8 715.0,785.9 717.5,792.3 722.6,791.0 729.0,789.7 732.8,787.2 732.8,792.3 737.9,793.5 744.2,792.3 745.5,797.4 743.0,802.4 740.4,807.5 735.3,812.6 731.5,815.7 727.7,811.4 723.9,810.1 720.1,806.3 717.5,802.4 716.3,807.5 712.4,811.4 708.6,810.1 704.8,807.5 699.7,798.6 694.6,792.3 687.0,784.6 679.4,781.6 671.7,784.6 661.6,785.9 646.3,777.0 633.6,765.6 620.9,752.8 610.7,741.4 600.5,730.0 590.3,719.8" stroke="none"/>
<polygon points="579.2,707.8 579.9,705.8 580.7,703.7 582.9,702.6 582.7,700.7 585.2,699.4 585.5,697.4 585.9,694.8 587.8,693.8 589.9,693.6 590.9,691.5 591.7,689.0 593.9,689.0 595.4,687.2 597.3,686.5 598.5,684.5 600.0,683.4 600.5,680.9 602.9,680.2 605.6,680.3 607.0,683.0 609.4,684.2 608.6,686.5 610.1,687.9 610.7,690.0 612.4,688.9 614.7,689.6 617.1,689.3 618.9,690.4 621.0,689.6 623.1,689.1 624.7,690.5 624.6,693.8 622.1,695.6 621.0,698.5 620.9,700.7 622.8,699.7 624.5,702.8 627.2,702.0 629.0,703.9 632.3,704.5 631.3,706.6 630.7,708.4 631.0,710.9 632.5,713.4 636.1,713.4 636.0,715.6 634.9,718.5 637.1,718.3 640.0,719.8 639.9,722.4 642.5,724.9 640.5,724.9 639.2,727.3 637.4,728.7 635.6,727.4 632.3,727.4 631.7,729.3 631.0,732.5 634.2,733.2 636.1,733.8 638.3,732.2 641.2,732.5 644.1,732.6 646.3,735.0 647.7,733.0 650.1,732.5 652.4,734.5 653.9,736.3 651.7,738.0 650.1,740.1 653.4,740.6 653.9,743.7 656.5,743.9 659.3,742.3 660.3,740.1 661.8,738.8 664.6,738.9 665.6,741.0 668.4,741.7 669.2,743.9 667.6,746.2 667.9,749.0 668.2,751.0 670.5,752.8 670.0,755.2 669.2,757.9 670.6,761.8 673.8,759.2 672.3,761.4 673.0,763.6 671.7,765.6 672.9,767.3 674.3,768.4 675.6,770.7 677.6,771.3 680.7,771.9 683.4,772.2 683.1,775.1 685.7,775.7 687.7,775.5 689.6,776.2 692.1,775.7 694.4,776.4 697.2,774.5 699.3,773.8 701.0,774.0 702.3,777.0 704.7,775.7 706.9,776.4 708.6,777.5 710.8,778.8 712.4,780.8 713.3,783.1 715.0,785.9 715.2,788.0 719.6,788.9 717.5,792.3 721.0,792.7 722.6,791.0 724.7,792.3 727.0,789.2 729.0,789.7 730.7,789.0 732.8,787.2 732.5,789.7 732.8,792.3 735.7,792.8 737.9,793.5 739.7,793.5 741.5,791.4 744.2,792.3 744.8,795.1 745.5,797.4 744.5,800.6 743.0,802.4 740.6,805.0 740.4,807.5 738.4,808.3 737.6,812.3 735.3,812.6 733.3,813.1 731.5,815.7 729.5,815.0 729.1,813.0 727.7,811.4 726.4,810.0 723.9,810.1 721.8,808.5 720.1,806.3 716.4,805.7 717.5,802.4 717.4,805.6 716.3,807.5 716.2,810.9 712.4,811.4 710.7,809.8 708.6,810.1 707.6,808.2 704.8,807.5 704.6,804.8 702.2,804.3 701.1,802.1 701.9,799.6 699.7,798.6 697.7,797.8 698.8,794.6 695.2,794.1 694.6,792.3 693.0,791.3 691.6,789.8 690.1,787.4 688.9,786.3 687.0,784.6 684.0,785.5 684.0,781.9 682.2,779.9 679.4,781.6 676.8,781.6 675.3,783.2 673.7,783.9 671.7,784.6 669.7,784.0 667.5,785.5 666.0,786.5 663.4,784.6 661.6,785.9 659.0,785.5 658.6,782.5 654.7,785.8 653.1,783.9 653.3,781.4 651.0,780.1 649.1,779.5 647.7,778.5 646.3,777.0 645.4,775.7 643.5,775.1 641.1,773.9 640.3,772.8 639.5,769.7 637.8,769.9 635.4,769.1 635.2,766.5 633.6,765.6 631.5,764.3 632.9,760.3 628.8,762.3 628.8,758.7 624.9,760.5 625.2,756.7 623.2,755.9 621.7,754.3 620.9,752.8 619.4,751.2 618.1,750.5 617.6,748.7 616.1,747.1 613.3,746.5 612.5,744.5 613.3,742.1 610.7,741.4 608.7,741.0 609.0,737.4 606.3,737.6 605.9,734.8 603.9,734.6 602.3,733.0 603.0,730.9 600.5,730.0 601.3,727.0 596.6,727.6 596.6,725.7 595.3,723.8 592.6,723.6 590.6,722.1 590.3,719.8 588.2,719.0 588.1,715.7 587.6,714.6 584.3,713.6 583.0,713.3 580.7,711.4 581.1,708.7"/>
<polygon points="740.4,763.0 748.1,757.9 758.2,756.7 767.1,757.9 771.0,754.1 773.5,749.0 777.3,747.0 779.9,749.0 776.0,752.8 774.8,759.2 776.0,764.3 772.2,769.4 774.8,773.2 771.0,777.0 768.4,780.8 773.5,783.4 779.9,782.1 782.4,787.2 781.1,792.3 776.0,793.5 772.2,796.1 768.4,793.5 764.6,794.8 763.3,801.2 758.2,803.7 753.1,805.0 746.8,802.4 743.0,797.4 744.2,792.3 745.5,784.6 743.0,779.6 744.2,773.2 741.7,768.1" stroke="none"/>
<polygon points="740.4,763.0 741.4,761.0 745.0,761.6 745.1,758.2 748.1,757.9 750.5,757.1 752.3,757.8 754.5,756.8 756.1,758.1 758.2,756.7 759.6,760.0 762.8,757.7 764.7,755.8 767.1,757.9 769.2,755.9 771.0,754.1 773.3,752.3 773.5,749.0 774.9,747.2 777.3,747.0 779.9,749.0 777.3,750.6 776.0,752.8 776.3,755.5 776.2,757.5 774.8,759.2 775.2,761.2 776.0,764.3 774.3,765.8 772.6,767.1 772.2,769.4 774.8,770.6 774.8,773.2 774.0,777.0 771.0,777.0 770.3,779.9 768.4,780.8 771.4,781.3 773.5,783.4 775.5,783.7 777.8,782.8 779.9,782.1 782.5,784.5 782.4,787.2 779.5,789.4 781.1,792.3 778.8,794.0 776.0,793.5 774.3,794.9 772.2,796.1 769.4,795.9 768.4,793.5 766.8,794.7 764.6,794.8 763.9,797.1 764.7,799.7 763.3,801.2 761.8,804.3 758.2,803.7 756.6,807.2 753.1,805.0 750.3,806.6 749.6,802.4 746.8,802.4 745.5,800.9 744.3,799.1 743.0,797.4 744.6,794.9 744.2,792.3 746.0,790.9 741.7,788.3 746.2,786.8 745.5,784.6 743.1,783.1 743.0,779.6 743.5,777.1 744.8,775.9 744.2,773.2 743.8,770.8 741.7,768.1 739.8,766.0"/>
<polygon points="794.4,771.9 800.2,771.2 802.8,775.7 806.6,778.3 807.8,771.9 812.9,769.4 815.5,763.0 818.0,768.1 823.1,771.9 828.2,769.4 830.7,773.2 832.0,778.3 837.1,782.1 840.9,789.7 842.7,797.4 837.1,799.9 832.0,803.7 824.4,803.0 821.8,807.5 815.5,808.8 810.4,812.1 806.6,812.6 810.4,807.5 804.0,807.5 803.5,797.4 805.3,787.2 802.8,780.8 797.7,777.0" stroke="none"/>
<polygon points="794.4,771.9 796.8,772.6 798.7,771.6 800.2,771.2 802.1,773.2 802.8,775.7 806.7,774.7 806.6,778.3 806.1,775.5 807.0,773.6 807.8,771.9 810.2,771.5 812.9,769.4 814.1,767.5 815.8,765.7 815.5,763.0 815.7,765.9 818.0,768.1 820.4,768.6 821.8,770.7 823.1,771.9 825.7,771.6 828.2,769.4 830.0,771.5 830.7,773.2 831.7,775.1 832.0,778.3 834.3,778.9 835.1,781.7 837.1,782.1 837.6,784.4 839.0,785.7 837.9,788.6 840.9,789.7 840.3,791.6 844.7,793.3 841.2,795.2 842.7,797.4 840.2,796.6 839.2,799.0 837.1,799.9 835.3,800.2 833.8,801.7 832.0,803.7 829.9,803.5 829.0,800.0 826.7,802.3 824.4,803.0 824.2,805.1 821.8,807.5 820.3,809.3 817.5,809.9 815.5,808.8 813.2,809.6 812.0,810.4 810.4,812.1 808.4,810.9 806.6,812.6 809.2,811.5 808.5,808.4 810.4,807.5 808.5,808.9 806.4,806.9 804.0,807.5 804.9,805.8 807.1,803.7 806.4,801.3 802.9,799.2 803.5,797.4 804.4,795.1 803.1,793.1 803.5,790.8 803.9,789.5 805.3,787.2 804.5,785.5 804.5,783.0 802.8,780.8 802.0,778.9 798.4,779.3 797.7,777.0 794.5,777.1 795.1,773.3"/>
<polygon points="733.3,834.2 740.4,833.0 748.1,831.7 749.3,838.1 753.1,843.1 757.0,848.2 758.2,854.6 764.6,857.1 760.8,859.7 762.1,866.0 758.7,869.9 757.0,863.5 753.1,859.7 748.1,855.9 743.0,853.3 737.9,854.6 734.1,855.9 732.8,849.5 734.8,843.1 732.8,838.1" stroke="none"/>
<polygon points="733.3,834.2 736.0,834.7 737.9,832.2 740.4,833.0 742.7,831.8 743.7,831.8 746.6,832.8 748.1,831.7 749.1,834.1 749.5,835.5 749.3,838.1 751.6,839.0 752.7,840.6 753.1,843.1 756.0,843.3 756.8,846.0 757.0,848.2 758.6,849.8 757.8,852.6 758.2,854.6 760.6,854.5 761.0,859.1 764.6,857.1 760.7,856.2 760.8,859.7 760.9,861.6 761.7,864.5 762.1,866.0 760.3,868.3 758.7,869.9 757.2,868.0 757.6,865.7 757.0,863.5 755.6,860.3 753.1,859.7 749.6,861.2 748.5,858.0 748.1,855.9 745.6,855.7 743.0,853.3 740.7,853.9 737.9,854.6 735.9,855.0 734.1,855.9 735.6,853.0 731.8,851.9 732.8,849.5 734.9,847.3 734.5,845.7 734.8,843.1 734.9,840.9 732.8,838.1 733.8,836.4"/>
<polygon points="834.5,890.2 838.4,892.8 842.2,897.8 847.3,900.4 852.4,897.8 853.6,888.9 856.9,881.3 857.9,885.1 856.2,894.0 858.7,901.7 862.5,905.5 857.4,904.2 851.1,901.7 846.0,902.2 840.9,900.4 837.1,895.3" stroke="none"/>
<polygon points="834.5,890.2 835.9,891.8 838.4,892.8 838.5,895.7 841.4,895.9 842.2,897.8 844.7,898.5 847.3,900.4 849.7,899.6 852.4,897.8 853.8,896.3 853.5,893.7 854.6,890.9 853.6,888.9 855.0,887.4 855.6,884.7 855.9,883.5 856.9,881.3 857.8,882.9 857.9,885.1 858.7,887.1 856.6,889.1 857.0,891.5 856.2,894.0 859.8,895.3 857.6,897.4 858.4,899.8 858.7,901.7 859.9,903.6 862.5,905.5 859.6,905.6 857.4,904.2 855.8,903.3 853.6,901.1 851.1,901.7 849.0,900.5 846.0,902.2 843.3,901.5 840.9,900.4 838.1,900.2 838.3,897.1 837.1,895.3 836.2,892.0"/>
<polygon points="930.3,598.2 935.4,594.3 941.7,593.1 945.6,590.0 949.9,589.3 951.4,593.1 948.1,596.9 950.7,600.7 948.9,604.5 944.3,603.8 940.5,605.8 935.4,603.2 931.6,602.0" stroke="none"/>
<polygon points="930.3,598.2 933.4,598.6 933.7,595.4 935.4,594.3 937.3,592.5 940.5,595.3 941.7,593.1 942.9,590.3 945.6,590.0 948.1,590.7 949.9,589.3 949.5,592.2 951.4,593.1 949.8,594.7 948.1,596.9 950.3,597.5 950.7,600.7 950.4,603.0 948.9,604.5 946.5,604.2 944.3,603.8 942.4,604.9 940.5,605.8 937.4,604.8 935.4,603.2 933.9,601.3 931.6,602.0 931.6,599.4"/>
<polygon points="887.1,727.9 892.1,724.8 897.2,724.1 902.3,726.6 908.2,727.4 906.1,730.9 903.6,735.5 902.3,741.9 906.1,743.1 908.2,740.1 909.2,747.0 912.5,750.8 914.3,754.6 910.0,756.4 907.4,759.7 902.3,758.4 898.5,762.2 893.4,763.5 889.6,767.3 884.5,766.0 879.4,764.8 874.3,763.5 870.0,762.2 874.3,759.7 875.6,755.9 882.0,755.4 887.1,752.8 890.9,757.1 894.7,754.6 899.8,753.3 901.0,748.2 898.0,743.1 899.0,738.1 896.0,733.5 890.9,730.9" stroke="none"/>
<polygon points="887.1,727.9 889.6,727.8 890.0,724.6 892.1,724.8 894.6,726.0 897.2,724.1 899.8,726.7 902.3,726.6 904.0,727.2 906.0,725.5 908.2,727.4 908.2,730.1 906.1,730.9 906.3,733.7 903.6,735.5 901.7,737.5 904.7,739.7 902.3,741.9 903.8,742.4 906.1,743.1 908.2,740.1 905.4,743.2 912.2,743.7 909.2,747.0 910.1,749.6 912.5,750.8 913.0,753.2 914.3,754.6 912.5,756.1 910.0,756.4 908.0,758.1 907.4,759.7 904.9,759.4 902.3,758.4 900.2,760.0 898.5,762.2 896.3,763.3 893.4,763.5 890.9,763.9 889.6,767.3 887.1,768.0 884.5,766.0 881.1,766.7 879.4,764.8 878.1,761.7 874.3,763.5 871.8,764.1 870.0,762.2 871.1,760.1 874.3,759.7 874.5,757.8 875.6,755.9 878.1,756.7 879.5,757.0 882.0,755.4 884.0,754.7 887.1,752.8 889.5,753.5 891.0,755.0 890.9,757.1 894.3,757.6 894.7,754.6 896.4,750.7 899.8,753.3 899.0,750.3 901.0,748.2 902.7,744.5 898.6,745.2 898.0,743.1 897.1,740.3 899.0,738.1 896.9,736.1 896.0,733.5 892.4,733.2 890.9,730.9 889.2,729.2"/>
<polygon points="927.0,733.0 929.0,730.9 929.5,738.1 932.1,744.4 936.7,749.5 941.7,751.3 945.6,748.2 950.7,747.0 951.9,739.3 954.0,730.9 955.7,735.5 958.3,739.3 957.5,745.7 954.5,749.5 951.9,754.6 951.4,758.4 946.8,757.1 944.3,761.0 943.0,765.5 939.2,763.5 934.6,763.0 937.9,759.7 935.4,757.1 931.6,755.9 932.8,752.8 929.5,748.2 927.8,741.9" stroke="none"/>
<polygon points="927.0,733.0 929.0,730.9 930.3,733.3 930.3,736.1 929.5,738.1 931.4,740.2 932.9,741.9 932.1,744.4 933.4,746.1 934.2,748.2 936.7,749.5 938.6,751.5 941.7,751.3 943.8,750.4 945.6,748.2 948.4,748.4 950.7,747.0 951.5,744.7 950.2,743.4 948.4,740.7 951.9,739.3 952.4,737.2 950.6,734.1 956.2,733.4 954.0,730.9 955.6,733.0 955.7,735.5 956.2,737.4 958.3,739.3 959.5,742.1 958.3,744.1 957.5,745.7 956.2,747.4 954.5,749.5 953.7,752.7 951.9,754.6 952.3,756.3 951.4,758.4 949.1,756.6 946.8,757.1 945.1,759.3 944.3,761.0 943.0,763.1 943.0,765.5 941.0,765.1 939.2,763.5 937.0,764.4 934.6,763.0 936.2,761.3 937.9,759.7 935.4,757.1 933.9,756.7 931.6,755.9 932.8,752.8 929.7,750.8 929.5,748.2 928.9,746.1 929.0,744.3 927.8,741.9 927.2,739.5 928.4,737.7 927.5,735.3"/>
<polygon points="974.8,760.4 978.6,758.4 983.7,759.7 988.8,761.0 993.1,763.0 990.1,766.0 988.0,771.1 985.0,767.3 981.2,769.9 977.4,766.0" stroke="none"/>
<polygon points="974.8,760.4 976.4,758.4 978.6,758.4 981.0,758.6 983.7,759.7 986.7,760.9 988.8,761.0 990.8,762.8 993.1,763.0 991.4,763.6 990.1,766.0 988.1,767.5 988.0,771.1 985.3,769.5 985.0,767.3 983.3,769.6 981.2,769.9 977.9,768.7 977.4,766.0 977.1,763.9 975.1,762.6"/>
<polygon points="865.4,793.4 868.5,788.3 873.6,787.1 874.3,782.0 878.2,785.8 884.5,787.1 889.6,785.3 896.5,785.8 894.7,792.1 893.9,799.8 897.2,803.6 902.3,803.1 908.2,802.3 906.6,808.2 910.0,813.8 907.4,818.9 913.8,816.3 915.0,822.7 912.5,829.0 913.8,835.4 918.9,832.8 921.4,827.8 926.0,829.0 925.2,834.1 929.0,837.9 926.5,841.7 921.4,841.2 923.9,846.8 921.4,850.7 917.6,848.1 915.0,851.9 916.3,858.3 910.0,857.0 906.6,859.6 903.1,861.6 904.9,855.7 907.4,850.7 901.0,848.1 894.7,849.4 893.4,843.0 887.1,840.5 892.1,837.9 893.4,831.6 890.9,826.5 893.4,821.4 892.1,815.0 889.6,810.0 887.1,806.1 880.7,806.6 874.3,805.6 867.5,804.9 864.9,799.8" stroke="none"/>
<polygon points="865.4,793.4 864.4,790.1 868.0,789.8 868.5,788.3 871.0,788.9 873.6,787.1 873.0,784.6 874.3,782.0 874.7,785.7 878.2,785.8 880.2,787.5 882.7,786.5 884.5,787.1 887.7,785.8 889.6,785.3 892.3,782.1 893.6,785.8 896.5,785.8 895.1,787.2 895.1,790.1 894.7,792.1 893.9,793.8 895.2,795.9 895.3,797.5 893.9,799.8 895.3,802.4 897.2,803.6 899.9,802.7 902.3,803.1 904.6,803.5 905.9,801.5 908.2,802.3 906.3,804.1 908.6,806.6 906.6,808.2 907.2,810.7 909.1,811.7 910.0,813.8 910.9,817.7 907.4,818.9 908.7,817.5 912.7,820.2 913.8,816.3 913.4,818.5 915.5,819.9 915.0,822.7 914.1,825.1 914.3,827.2 912.5,829.0 914.2,830.5 913.6,832.8 913.8,835.4 916.2,832.8 918.9,832.8 920.3,830.5 921.4,827.8 923.4,827.4 926.0,829.0 925.9,831.3 925.2,834.1 926.2,837.4 929.0,837.9 928.2,839.7 926.5,841.7 924.4,842.4 921.4,841.2 921.7,843.9 922.0,845.7 923.9,846.8 923.2,849.1 921.4,850.7 919.8,848.0 917.6,848.1 917.4,850.1 915.0,851.9 915.6,853.7 915.0,856.2 916.3,858.3 914.0,858.8 912.7,856.3 910.0,857.0 909.2,859.5 906.6,859.6 904.8,861.0 903.1,861.6 903.3,860.0 902.5,857.5 904.9,855.7 905.4,853.2 907.4,850.7 904.6,850.4 904.1,847.5 901.0,848.1 898.5,848.4 896.5,849.7 894.7,849.4 893.4,847.9 892.9,845.7 893.4,843.0 891.5,842.2 889.4,840.9 887.1,840.5 888.4,838.1 892.1,837.9 893.8,835.7 892.7,833.8 893.4,831.6 891.6,829.9 890.9,826.5 891.6,823.2 893.4,821.4 892.5,819.3 892.5,817.6 892.1,815.0 891.8,811.7 889.6,810.0 889.4,807.4 887.1,806.1 884.4,805.2 883.1,806.8 880.7,806.6 878.8,805.2 876.4,804.8 874.3,805.6 871.7,804.7 869.4,805.5 867.5,804.9 866.1,802.7 864.9,799.8 863.6,797.0 866.6,796.2"/>
<polygon points="347.5,725.6 351.5,723.2 356.2,724.8 361.0,729.6 365.8,735.9 367.4,742.3 361.8,745.5 355.4,745.0 350.7,742.3 347.5,736.7 346.7,731.2" stroke="none"/>
<polygon points="347.5,725.6 348.9,722.5 351.5,723.2 354.5,723.2 356.2,724.8 359.3,725.7 361.3,725.6 361.0,729.6 361.2,732.1 364.5,732.2 365.1,734.5 365.8,735.9 367.6,737.4 369.0,740.0 367.4,742.3 365.2,742.0 364.1,745.4 361.8,745.5 359.5,745.1 357.9,746.1 355.4,745.0 354.1,740.7 350.7,742.3 349.2,740.5 349.4,738.2 347.5,736.7 347.9,733.7 346.7,731.2 346.8,727.9"/>
</g><g fill="#fff">
<polygon points="632.3,724.9 634.6,724.7 636.6,723.1 637.6,724.5 639.2,726.6 635.9,727.4 635.6,730.0 632.3,728.7 634.1,726.8"/>
<polygon points="637.4,742.7 640.3,742.7 642.5,740.9 644.1,742.1 646.3,743.4 644.4,744.9 642.5,746.5 640.8,745.0 638.2,746.0"/>
<polygon points="807.1,782.6 808.6,783.4 810.7,783.1 812.5,781.9 814.7,782.6 815.0,784.7 815.2,787.1 815.5,789.7 813.4,791.0 811.3,790.7 809.5,789.7 807.8,790.2 808.1,788.0 806.9,786.0 806.8,784.4"/>
</g><g fill="none">
<polyline points="584.0,704.5 586.6,705.1 590.4,705.3 592.0,706.2 595.4,706.3 597.7,704.7 600.1,704.2 602.0,702.9 605.0,702.1 606.9,700.7 608.8,702.6 612.0,704.5 612.2,706.6 612.1,709.5 613.3,712.2 613.2,714.7 610.8,717.0 609.2,717.6 605.9,719.6 604.2,720.1 601.0,720.8 599.3,723.6"/>
<polyline points="606.9,700.7 608.4,699.0 607.9,695.5 609.3,692.4 610.7,690.0"/>
<polyline points="613.2,714.7 615.2,716.9 615.8,719.5 618.0,721.8 618.8,723.8 620.9,726.5 621.6,729.8 623.4,731.2 624.7,733.8 622.3,734.8 619.9,734.7 617.4,735.9 614.5,736.3 615.4,738.8 615.4,741.5 615.2,743.9 615.8,746.5"/>
<polyline points="674.3,771.9 674.5,774.8 675.2,777.1 673.0,779.5 673.4,782.1 673.0,784.6"/>
<polyline points="575.2,440.9 577.6,442.4 579.6,443.8 582.5,444.7 585.3,446.0 587.3,445.2 591.1,443.8 593.0,443.0 595.8,442.9 599.3,443.0 599.7,445.5 598.6,448.1 599.1,451.3 599.4,453.4 599.3,456.2"/>
<polyline points="599.3,443.0 603.1,439.9"/>
</g></g>
<polygon points="83.5,241.5 83.8,242.2 95.3,252.4 108.0,263.1 123.2,275.3 138.5,289.0 153.8,305.0 167.8,322.8 175.4,336.8 186.8,353.9 199.6,372.4 212.3,392.8 222.4,409.3 230.1,425.9 231.8,435.3 236.9,453.1 239.4,470.9 241.2,484.9 243.2,490.0 249.6,492.5 258.5,497.6 270.0,509.0 281.4,524.3 294.1,542.1 306.8,559.9 318.3,577.7 327.2,595.5 333.5,609.5 336.4,612.7 341.9,625.4 345.9,639.7 349.1,654.1 350.7,668.4 351.5,682.7 351.5,695.4 350.7,708.1 349.4,717.6 347.5,723.2 345.9,727.2 345.1,732.0 342.7,732.8 343.5,735.1 347.5,738.3 349.9,743.9 355.4,745.5 361.8,746.3 367.4,744.7 372.9,742.3 377.7,741.5 381.7,748.6 384.8,756.6 388.0,757.4 390.1,752.6 389.1,743.9 386.4,739.1 384.1,733.5 383.3,727.2 381.7,719.2 378.5,715.3 374.5,711.3 376.1,706.5 380.9,701.7 388.8,698.6 396.8,697.8 403.1,699.4 407.9,703.3 412.7,708.9 419.0,711.3 428.6,712.9 438.1,713.2 444.5,713.7 447.6,716.1 450.8,718.4 449.2,721.6 453.2,720.8 455.6,725.6 450.6,718.2 453.2,721.7 456.7,725.2 459.3,730.4 461.1,734.8 457.6,732.5 452.4,733.9 448.9,733.5 446.2,735.6 445.9,738.3 448.0,740.5 451.5,740.0 454.1,736.5 457.6,734.8 462.0,735.6 464.6,735.6 466.9,738.3 469.8,741.8 472.5,740.0 477.7,736.5 483.0,733.9 487.3,732.1 487.3,725.2 490.0,718.2 493.4,712.9 496.9,707.7 500.4,703.3 505.7,700.7 510.9,698.9 510.9,698.9 513.4,698.2 519.1,700.1 521.5,702.0 523.8,697.2 526.7,692.9 530.5,692.4 531.0,688.6 534.3,684.8 538.2,683.8 541.0,688.1 544.8,684.8 547.7,687.2 551.5,688.6 555.3,690.5 558.2,693.4 561.0,695.8 565.8,694.8 569.6,698.2 574.4,702.0 579.2,705.8 583.0,709.1 587.8,713.4 591.6,718.2 595.4,724.9 600.5,730.0 610.7,741.4 620.9,752.8 633.6,765.6 646.3,777.0 661.6,785.9 671.7,784.6 679.4,781.6 687.0,784.6 694.6,792.3 699.7,798.6 704.8,807.5 709.9,817.7 713.7,827.9 716.3,838.1 716.4,841.0 707.5,847.4 692.3,855.0 682.1,866.5 671.9,880.5 657.9,886.8 651.6,891.9 654.1,902.1 643.9,911.0 626.1,919.9 618.5,921.2 607.1,914.8 604.5,921.2 597.6,923.7 596.9,935.2 588.0,947.9 585.4,958.1 581.6,968.2 585.4,981.0 584.2,987.3 584.0,990.0 83.5,990.0" fill="#e0f3ff" stroke="#333" stroke-width="0.9"/>
<polygon points="602.0,987.3 605.8,975.9 618.5,968.2 633.8,961.9 654.1,955.5 661.7,945.3 674.5,940.3 687.2,933.9 699.9,933.9 712.6,926.3 725.3,924.5 738.1,928.8 748.2,937.7 758.4,947.4 768.6,940.3 783.8,939.0 795.3,941.5 804.2,930.1 814.4,919.9 827.1,914.8 836.0,902.1 842.4,899.6 855.1,902.1 865.2,907.2 870.5,910.4 880.7,915.5 888.3,917.6 896.0,916.0 901.0,910.4 905.6,900.3 911.2,890.1 918.9,879.9 927.8,878.6 935.4,871.8 940.5,869.7 949.4,871.8 959.6,874.8 972.3,879.9 985.0,887.5 997.7,899.0 1010.4,913.0 1023.1,928.2 1035.9,946.0 1048.6,963.8 1056.2,976.6 1063.3,988.0 1064.0,990.0 602.0,990.0" fill="#e0f3ff" stroke="#333" stroke-width="0.9"/>
<polygon points="195.8,780.1 198.6,777.2 204.3,775.3 211.0,778.2 215.8,777.8 217.7,782.0 225.3,785.8 234.9,787.3 245.4,785.8 252.0,788.6 258.7,792.5 261.6,790.6 269.2,793.4 274.9,798.2 278.7,803.9 284.5,806.8 285.4,810.6 279.7,813.4 281.6,818.2 284.5,823.9 282.6,830.6 276.8,833.5 274.9,843.0 272.1,839.2 265.4,837.3 259.7,840.2 253.9,844.0 248.2,847.2 240.6,844.5 233.0,844.0 225.3,845.9 224.4,850.7 222.5,853.5 220.6,850.7 220.0,845.9 212.0,844.5 208.2,846.8 204.3,845.9 200.5,842.1 194.8,839.2 189.1,835.4 187.2,831.6 190.0,827.8 194.8,825.9 193.8,820.1 190.0,813.4 188.1,807.7 190.0,801.0 194.8,797.2 198.6,791.5 199.6,785.8 196.7,782.9" fill="#fff" stroke="#222" stroke-width="0.8"/>
<polygon points="302.0,795.3 304.5,791.5 307.4,789.2 310.2,790.0 311.2,798.2 307.4,799.1 303.5,798.2" fill="#fff" stroke="#222" stroke-width="0.8"/>
<polygon points="315.9,775.3 319.8,771.5 320.7,767.7 326.4,764.8 329.9,766.7 329.3,770.5 334.1,768.6 336.9,770.5 345.5,770.5 344.6,775.3 340.7,781.0 338.8,777.2 334.1,778.2 330.3,781.0 332.2,785.8 334.5,788.1 331.2,790.0 328.3,788.6 325.5,791.5 326.4,796.3 328.3,800.1 325.5,802.0 321.7,798.2 319.8,793.4 316.9,794.4 313.5,794.9 312.1,791.5 315.0,788.6 317.9,783.9 319.8,779.1 316.9,777.2" fill="#fff" stroke="#222" stroke-width="0.8"/>
<ellipse cx="630" cy="967" rx="1.6" ry="1.4" fill="#fff" stroke="#222" stroke-width="0.7"/>
<ellipse cx="646.7" cy="972.5" rx="1.5" ry="1.6" fill="#fff" stroke="#222" stroke-width="0.7"/>
<ellipse cx="676" cy="974.5" rx="3.6" ry="2.2" fill="#fff" stroke="#222" stroke-width="0.7"/>
<ellipse cx="702" cy="811.3" rx="1.2" ry="1.5" fill="#fff" stroke="#222" stroke-width="0.7"/>
<polygon points="243.2,486.6 247.1,483.1 252.1,479.0 254.7,479.0 250.9,483.6 245.8,487.7" fill="#e0f3ff" stroke="#333" stroke-width="0.6"/>
<ellipse cx="420.4" cy="684.4" rx="2" ry="1.3" fill="#10a04a"/>
<g fill="none" stroke="#00175e" stroke-width="0.6">
<polygon points="452.4,697.2 455.0,693.7 458.1,692.6 460.2,691.9 462.9,692.3 466.3,693.7 468.1,696.1 468.1,698.9 466.0,701.0 463.7,702.4 460.8,704.0 458.5,704.5 454.1,702.4 453.8,700.0"/>
<polyline points="448.0,675.3 450.4,677.5 453.3,678.2 455.0,679.7 457.6,680.9 459.5,683.3 462.0,684.9 465.3,684.1 467.2,683.2"/>
<polyline points="449.9,595.8 454.7,596.7 460.6,595.8 464.8,594.9 470.8,595.2 476.7,595.5 480.3,596.4 486.9,598.2"/>
<polyline points="570.4,647.3 571.5,645.2 573.2,643.8 574.8,641.2 577.6,639.3 580.0,637.7 578.8,641.4 578.3,644.7 576.5,646.4 574.0,647.8 572.1,649.1 570.4,647.3"/>
</g>
<g fill="#a8a8a8" stroke="#2a2a2a" stroke-width="0.6">
<polygon points="201.5,780.1 205.3,779.1 206.1,781.0 208.2,782.9 211.0,782.9 210.5,785.2 210.1,788.6 211.0,792.5 213.0,794.7 214.8,796.9 211.1,798.2 209.1,800.1 207.3,801.6 205.3,804.9 202.4,807.7 206.2,809.6 204.3,812.5 207.2,815.4 204.3,818.2 206.1,820.6 208.2,822.0 207.1,824.1 207.2,827.8 211.0,829.7 211.4,833.0 212.9,835.4 211.0,839.2 208.7,840.4 209.1,844.0 207.2,840.2 204.6,840.1 202.4,839.2 198.6,838.3 194.8,836.3 191.9,833.5 193.8,829.7 195.8,825.9 196.6,822.7 194.8,820.1 192.9,818.4 192.4,815.9 191.0,814.4 190.3,812.2 188.8,810.3 188.7,807.7 189.5,805.4 190.6,802.0 193.5,800.3 195.2,798.2 196.7,795.9 197.8,794.4 199.0,792.5 198.1,789.5 199.1,787.8 200.1,785.8 200.3,783.1"/>
<polygon points="315.9,775.3 318.9,774.2 319.8,771.5 320.7,767.7 324.1,765.4 326.4,764.8 329.9,766.7 329.3,770.5 331.6,770.2 334.1,768.6 336.9,770.5 339.3,771.1 342.9,770.2 345.5,770.5 343.7,773.2 344.6,775.3 343.6,776.9 341.5,779.1 340.7,781.0 338.8,777.2 336.8,777.2 334.1,778.2 332.2,779.3 330.3,781.0 331.2,784.0 332.2,785.8 334.5,788.1 331.2,790.0 328.3,788.6 325.5,791.5 324.8,794.6 326.4,796.3 328.3,800.1 325.5,802.0 323.2,799.9 321.7,798.2 322.4,795.6 319.8,793.4 316.9,794.4 313.5,794.9 312.1,791.5 315.0,788.6 317.0,786.0 317.9,783.9 317.9,781.1 319.8,779.1 316.9,777.2"/>
</g>
<polygon points="430.20,676.00 434.22,688.37 447.22,688.37 436.70,696.01 440.72,708.38 430.20,700.74 419.68,708.38 423.70,696.01 413.18,688.37 426.18,688.37" fill="none" stroke="#000" stroke-width="3.9" stroke-miterlimit="10"/>
</g>
<g stroke="#000" stroke-width="1">
<rect x="146.5" y="930.3" width="200.9" height="5.9" fill="#fff"/>
<rect x="146.5" y="930.3" width="50.6" height="5.9" fill="#000"/>
<rect x="246.7" y="930.3" width="50.4" height="5.9" fill="#000"/>
<line x1="146.5" y1="930.3" x2="146.5" y2="940.4"/>
<line x1="197.1" y1="930.3" x2="197.1" y2="938"/>
<line x1="246.7" y1="930.3" x2="246.7" y2="940.4"/>
<line x1="297.1" y1="930.3" x2="297.1" y2="938"/>
<line x1="347.4" y1="930.3" x2="347.4" y2="940.4"/>
</g>
<text x="246.9" y="915.1" font-size="29.6" text-anchor="middle" fill="#000" stroke="#000" stroke-width="0.3">km</text>
<g font-size="21.6" text-anchor="middle" fill="#000" stroke="#000" stroke-width="0.3"><text x="146.8" y="963.7">0</text><text x="247.2" y="963.7">10</text><text x="347" y="963.7">20</text></g>
<g stroke="#000" stroke-width="0.95" fill="none">
<line x1="312" y1="35.5" x2="312" y2="987.5"/>
<line x1="734" y1="35.5" x2="734" y2="987.5" stroke-width="0.8"/>
<line x1="1155.5" y1="35.5" x2="1155.5" y2="987.5" stroke-width="0.8"/>
<line x1="83.5" y1="510.5" x2="1175" y2="510.5" stroke-width="0.7"/>
</g>
<g fill="#000" stroke="none">
<rect x="73.5" y="35.75" width="9.95" height="474.75"/>
<rect x="1175" y="35.75" width="9.8" height="474.75"/>
<rect x="312" y="25.8" width="422" height="9.95"/>
<rect x="1155.5" y="25.8" width="19.5" height="9.95"/>
<rect x="312" y="987.4" width="422" height="9.6"/>
<rect x="1155.5" y="987.4" width="19.5" height="9.6"/>
</g>
<g fill="none" stroke="#000" stroke-width="1.25">
<rect x="73.5" y="25.8" width="1111.3" height="971.2"/>
<rect x="83.45" y="35.75" width="1091.55" height="951.65"/>
</g>
<g font-size="22.5" fill="#000" stroke="#000" stroke-width="0.3">
<text x="313.0" y="16.3" text-anchor="middle">14°00'</text>
<text x="313.0" y="1023.2" text-anchor="middle">14°00'</text>
<text x="734.6" y="16.3" text-anchor="middle">14°30'</text>
<text x="734.6" y="1023.2" text-anchor="middle">14°30'</text>
<text x="1156.2" y="16.3" text-anchor="middle">15°00'</text>
<text x="1156.2" y="1023.2" text-anchor="middle">15°00'</text>
<text x="63.5" y="518.4" text-anchor="end">41°00'</text>
<text x="1194.8" y="518.4">41°00'</text>
</g>
<rect x="771.7" y="46.8" width="385.9" height="61.6" fill="#fff" stroke="#000" stroke-width="1"/>
<g font-size="12.3" fill="#000">
<text x="775.7" y="59.9" textLength="359.6" lengthAdjust="spacing">Terremoto del 28-02-2026 11:19:07 (ora locale) Md=3.5 Prof=3 km</text>
<text x="775.7" y="74.9" textLength="380.6" lengthAdjust="spacing">Mappa preliminare delle intensità macrosismiche stimate nelle località</text>
<text x="775.7" y="89.9" textLength="376.4" lengthAdjust="spacing">Dati non verificati estratti da 351 questionari compilati tramite Internet.</text>
<text x="775.7" y="104.9" textLength="289.3" lengthAdjust="spacing">Ultimo aggiornamento: 28-02-2026 23:49 (ora locale)</text>
</g>
<rect x="1056.5" y="171.5" width="99" height="473" fill="#fff" stroke="#000" stroke-width="1"/>
<text x="1106.2" y="188.1" font-size="13" font-weight="bold" fill="#000" text-anchor="middle" textLength="37.5" lengthAdjust="spacingAndGlyphs">Scala</text>
<text x="1105.8" y="203.7" font-size="13" font-weight="bold" fill="#000" text-anchor="middle" textLength="59" lengthAdjust="spacingAndGlyphs">Europea</text>
<text x="1105.8" y="219.7" font-size="13" font-weight="bold" fill="#000" text-anchor="middle" textLength="41" lengthAdjust="spacingAndGlyphs">(EMS)</text>
<rect x="1077.5" y="229.50" width="57" height="19" fill="#a8a8a8" stroke="#000" stroke-width="1"/>
<text x="1105.9" y="242.90" font-size="12.2" font-weight="bold" fill="#fff" text-anchor="middle" textLength="34" lengthAdjust="spacingAndGlyphs">n.a.*</text>
<rect x="1077.5" y="253.50" width="57" height="19" fill="#5069af" stroke="#000" stroke-width="1"/>
<text x="1105.9" y="266.90" font-size="12.2" font-weight="bold" fill="#fff" text-anchor="middle" textLength="8.5" lengthAdjust="spacingAndGlyphs">II</text>
<rect x="1077.5" y="277.50" width="57" height="19" fill="#0030bb" stroke="#0030bb" stroke-width="1"/>
<text x="1105.9" y="290.90" font-size="12.2" font-weight="bold" fill="#fff" text-anchor="middle" textLength="12.5" lengthAdjust="spacingAndGlyphs">III</text>
<rect x="1077.5" y="301.50" width="57" height="19" fill="#005cd0" stroke="#000" stroke-width="1"/>
<text x="1105.9" y="314.90" font-size="12.2" font-weight="bold" fill="#fff" text-anchor="middle" textLength="33" lengthAdjust="spacingAndGlyphs">III-IV</text>
<rect x="1077.5" y="325.50" width="57" height="19" fill="#009beb" stroke="#000" stroke-width="1"/>
<text x="1105.9" y="338.90" font-size="12.2" font-weight="bold" fill="#fff" text-anchor="middle" textLength="13.5" lengthAdjust="spacingAndGlyphs">IV</text>
<rect x="1077.5" y="350.50" width="57" height="19" fill="#00c87d" stroke="#000" stroke-width="1"/>
<text x="1105.9" y="363.90" font-size="12.2" font-weight="bold" fill="#000" text-anchor="middle" textLength="27.5" lengthAdjust="spacingAndGlyphs">IV-V</text>
<rect x="1077.5" y="374.50" width="57" height="19" fill="#00f000" stroke="#000" stroke-width="1"/>
<text x="1105.9" y="387.90" font-size="12.2" font-weight="bold" fill="#000" text-anchor="middle" textLength="9" lengthAdjust="spacingAndGlyphs">V</text>
<rect x="1077.5" y="398.50" width="57" height="19" fill="#befa00" stroke="#000" stroke-width="1"/>
<text x="1105.9" y="411.90" font-size="12.2" font-weight="bold" fill="#000" text-anchor="middle" textLength="27.5" lengthAdjust="spacingAndGlyphs">V-VI</text>
<rect x="1077.5" y="422.50" width="57" height="19" fill="#fff500" stroke="#000" stroke-width="1"/>
<text x="1105.9" y="435.90" font-size="12.2" font-weight="bold" fill="#000" text-anchor="middle" textLength="13.5" lengthAdjust="spacingAndGlyphs">VI</text>
<rect x="1077.5" y="446.50" width="57" height="19" fill="#ffc800" stroke="#000" stroke-width="1"/>
<text x="1105.9" y="459.90" font-size="12.2" font-weight="bold" fill="#000" text-anchor="middle" textLength="36" lengthAdjust="spacingAndGlyphs">VI-VII</text>
<rect x="1077.5" y="470.50" width="57" height="19" fill="#ffa000" stroke="#000" stroke-width="1"/>
<text x="1105.9" y="483.90" font-size="12.2" font-weight="bold" fill="#000" text-anchor="middle" textLength="17.5" lengthAdjust="spacingAndGlyphs">VII</text>
<rect x="1077.5" y="494.50" width="57" height="19" fill="#ff6e00" stroke="#000" stroke-width="1"/>
<text x="1105.9" y="507.90" font-size="12.2" font-weight="bold" fill="#000" text-anchor="middle" textLength="45" lengthAdjust="spacingAndGlyphs">VII-VIII</text>
<rect x="1077.5" y="518.50" width="57" height="19" fill="#ff0000" stroke="#000" stroke-width="1"/>
<text x="1105.9" y="531.90" font-size="12.2" font-weight="bold" fill="#000" text-anchor="middle" textLength="22" lengthAdjust="spacingAndGlyphs">VIII</text>
<text x="1106.9" y="557.4" font-size="12.6" font-weight="normal" fill="#111" text-anchor="middle" textLength="90.6" lengthAdjust="spacingAndGlyphs">*non avvertito</text>
<line x1="1056.5" y1="568.5" x2="1153" y2="568.5" stroke="#000" stroke-width="1" stroke-dasharray="2,2"/>
<text x="1105.4" y="583.9" font-size="12.6" font-weight="bold" fill="#000" text-anchor="middle" textLength="67.3" lengthAdjust="spacingAndGlyphs">Epicentro</text>
<text x="1105.4" y="599.8" font-size="12.6" font-weight="bold" fill="#000" text-anchor="middle" textLength="87.6" lengthAdjust="spacingAndGlyphs">strumentale</text>
<polygon points="1103.50,613.00 1105.66,619.63 1112.63,619.63 1106.99,623.73 1109.14,630.37 1103.50,626.27 1097.86,630.37 1100.01,623.73 1094.37,619.63 1101.34,619.63" fill="#fff" stroke="#000" stroke-width="1"/>
<defs><clipPath id="gl"><circle cx="132.0" cy="77.9" r="30.1"/></clipPath><radialGradient id="gg" cx="0.32" cy="0.25" r="0.85"><stop offset="0" stop-color="#2fb2d6"/><stop offset="0.55" stop-color="#1585b6"/><stop offset="1" stop-color="#0a568a"/></radialGradient>
<radialGradient id="gsh" cx="0.4" cy="0.35" r="0.75"><stop offset="0.6" stop-color="#000" stop-opacity="0"/><stop offset="1" stop-color="#000" stop-opacity="0.28"/></radialGradient></defs>
<g clip-path="url(#gl)">
<circle cx="132.0" cy="77.9" r="30.1" fill="url(#gg)"/>
<path d="M136.0,60.9 L141.9,49.5 L165.3,49.5 L165.3,105.9 L155.1,98.6 L151.4,84.0 L145.5,73.0 Z" fill="#cfc6d6"/>
<path d="M135.7,60.9 L141.9,50.3 L149.6,53.9 L150.5,57.0 L141.9,57.6 Z" fill="#2f9e3c"/>
<path d="M149.2,53.6 L151.8,55.8 L151.0,57.2 L149.6,56.5 Z" fill="#f2e400"/>
<path d="M136.0,61.4 L141.9,57.7 L150.7,57.0 L151.4,64.5 L143.4,62.0 Z" fill="#e2102a"/>
<path d="M136.8,62.0 L143.4,62.1 L151.3,66.4 L145.9,72.2 L141.9,66.4 Z" fill="#2f9e3c"/>
<path d="M135.1,62.0 L141.9,66.5 L145.7,72.8 L140.4,74.3 L134.9,74.6 Z" fill="#f2e400"/>
<path d="M134.9,75.0 L140.4,74.6 L145.7,73.3 L148.5,78.8 L150.8,84.8 L142.6,88.0 L134.2,89.7 Z" fill="#e2102a"/>
<path d="M146.3,72.4 L151.6,67.0 L158.9,73.8 L155.8,79.6 L152.0,83.4 L148.8,78.1 Z" fill="#f2e400"/>
<path d="M134.2,90.3 L142.6,88.5 L150.5,85.8 L152.5,91.3 L153.8,96.6 L143.4,101.5 L132.0,104.3 Z" fill="#2f9e3c"/>
<path d="M132.0,104.9 L143.4,102.1 L153.2,97.5 L147.7,104.5 L139.0,107.8 L131.3,108.1 Z" fill="#2f9e3c"/>
<path d="M160.4,71.5 L163.1,70.8 L163.1,77.4 L161.2,76.3 Z" fill="#2f9e3c"/>
<path d="M154.2,96.0 L158.2,92.4 L159.5,94.2 L154.7,98.6 Z" fill="#e2102a"/>
<circle cx="132.0" cy="77.9" r="30.1" fill="url(#gsh)"/>
<g fill="none" stroke="#fff" stroke-width="0.75" stroke-opacity="0.92">
<path d="M134.9,61.2 C134.8,63.6 134.4,70.4 134.2,75.2 C133.9,79.9 133.9,84.3 133.5,89.8 C133.0,95.3 131.9,105.1 131.6,108.1"/>
<path d="M134.9,61.2 C136.7,63.2 142.8,69.2 145.5,73.0 C148.3,76.8 149.9,79.8 151.4,84.0 C152.9,88.1 154.0,95.6 154.5,97.9"/>
<path d="M134.9,61.2 C136.3,61.4 140.6,61.2 143.4,62.0 C146.1,62.7 148.4,63.6 151.4,65.6 C154.4,67.7 159.7,73.0 161.3,74.4"/>
<path d="M134.9,61.2 C135.5,60.1 137.0,56.5 138.2,54.7 C139.4,52.8 141.6,50.7 142.3,49.9"/>
<path d="M134.9,61.2 C134.4,60.0 132.9,56.1 131.6,53.9 C130.3,51.8 128.0,49.3 127.2,48.4"/>
<path d="M134.9,61.2 C133.5,61.4 129.5,61.4 126.5,62.0 C123.5,62.6 120.0,63.4 117.0,64.9 C113.9,66.4 110.7,68.4 108.2,70.8 C105.7,73.1 103.0,77.5 102.0,78.8"/>
<path d="M134.9,61.2 C133.2,63.1 127.3,68.3 124.3,72.2 C121.3,76.1 119.0,80.0 117.0,84.7 C115.0,89.3 113.0,97.5 112.2,100.1"/>
<path d="M127.2,49.9 C126.1,50.7 122.0,52.6 120.6,54.7 C119.2,56.7 118.8,59.8 118.8,62.0 C118.8,64.2 119.4,66.1 120.6,67.8 C121.9,69.6 124.1,71.5 126.5,72.6 C128.9,73.7 131.8,74.5 134.9,74.6 C138.1,74.6 142.8,74.3 145.5,73.0 C148.3,71.6 150.5,69.0 151.4,66.4 C152.3,63.7 151.1,58.7 151.0,57.2"/>
<path d="M108.9,59.0 C108.8,60.5 107.7,64.7 108.2,67.8 C108.7,71.0 110.1,75.2 111.8,78.1 C113.6,81.0 114.8,83.4 118.4,85.4 C122.1,87.4 128.5,89.9 133.8,90.0 C139.2,90.0 146.2,88.0 150.5,85.6 C154.7,83.1 158.0,76.9 159.5,75.2"/>
<path d="M102.0,81.0 C102.6,82.5 104.2,86.9 106.0,89.8 C107.8,92.7 109.9,96.4 112.6,98.6 C115.3,100.8 118.9,102.0 122.1,103.0 C125.3,104.0 126.7,105.7 132.0,104.6 C137.2,103.6 150.0,98.1 153.6,96.8"/>
<path d="M119.2,57.6 C120.3,57.4 123.1,55.9 125.8,56.5 C128.4,57.1 133.4,60.5 134.9,61.2"/>
</g></g>
<g font-weight="bold" font-size="13.7" fill="#454545">
<text x="169.6" y="74.8" textLength="89.6" lengthAdjust="spacingAndGlyphs">ISTITUTO NAZIONALE</text>
<text x="169.6" y="89.3" textLength="136.2" lengthAdjust="spacingAndGlyphs">DI GEOFISICA E VULCANOLOGIA</text>
</g>
<g transform="translate(1097.8 916.4) scale(1 1.05) translate(-1097.8 -916.4)">
<circle cx="1097.8" cy="916.4" r="31.6" fill="#1d1d1b"/>
<circle cx="1097.8" cy="916.4" r="17.9" fill="none" stroke="#e2001a" stroke-width="6.2"/>
<circle cx="1098.6" cy="916.4" r="8.1" fill="#e2001a"/>
<defs><linearGradient id="cone" x1="0" x2="1"><stop offset="0" stop-color="#0c63b8"/><stop offset="1" stop-color="#22a6ea"/></linearGradient></defs>
<path d="M1103.5,909.2 L1131.2,901.8 Q1133.6,901.4 1133.6,903.6 L1133.6,927.5 L1103.5,921 Z" fill="url(#cone)"/>
<path d="M1103.5,921 L1133.6,927.5 L1133.6,930.5 Q1133.4,932.8 1131,932.2 L1103.5,923.8 Z" fill="#0b58a8"/>
</g>
<circle cx="1147.7" cy="916.4" r="9.9" fill="#e2001a"/>
<text x="1147.7" y="921.6" font-size="14.5" font-weight="bold" fill="#fff" text-anchor="middle" transform="rotate(90 1147.7 916.4)">?</text>
<g transform="translate(1097.8 916.4) scale(1 1.04) translate(-1097.8 -916.4)">
<text font-size="18.5" textLength="217" lengthAdjust="spacingAndGlyphs"><textPath href="#circ" startOffset="0"><tspan fill="#e2001a" stroke="#e2001a" stroke-width="0.35" font-weight="bold">www.</tspan><tspan fill="#1d1d1b">hai</tspan><tspan fill="#1d1d1b" stroke="#1d1d1b" stroke-width="0.35" font-weight="bold">sentito</tspan><tspan fill="#1d1d1b">il</tspan><tspan fill="#1d1d1b" stroke="#1d1d1b" stroke-width="0.35" font-weight="bold">terremoto</tspan><tspan fill="#e2001a" stroke="#e2001a" stroke-width="0.35" font-weight="bold">.it</tspan></textPath></text>
</g>
</g>
</svg></body></html>
